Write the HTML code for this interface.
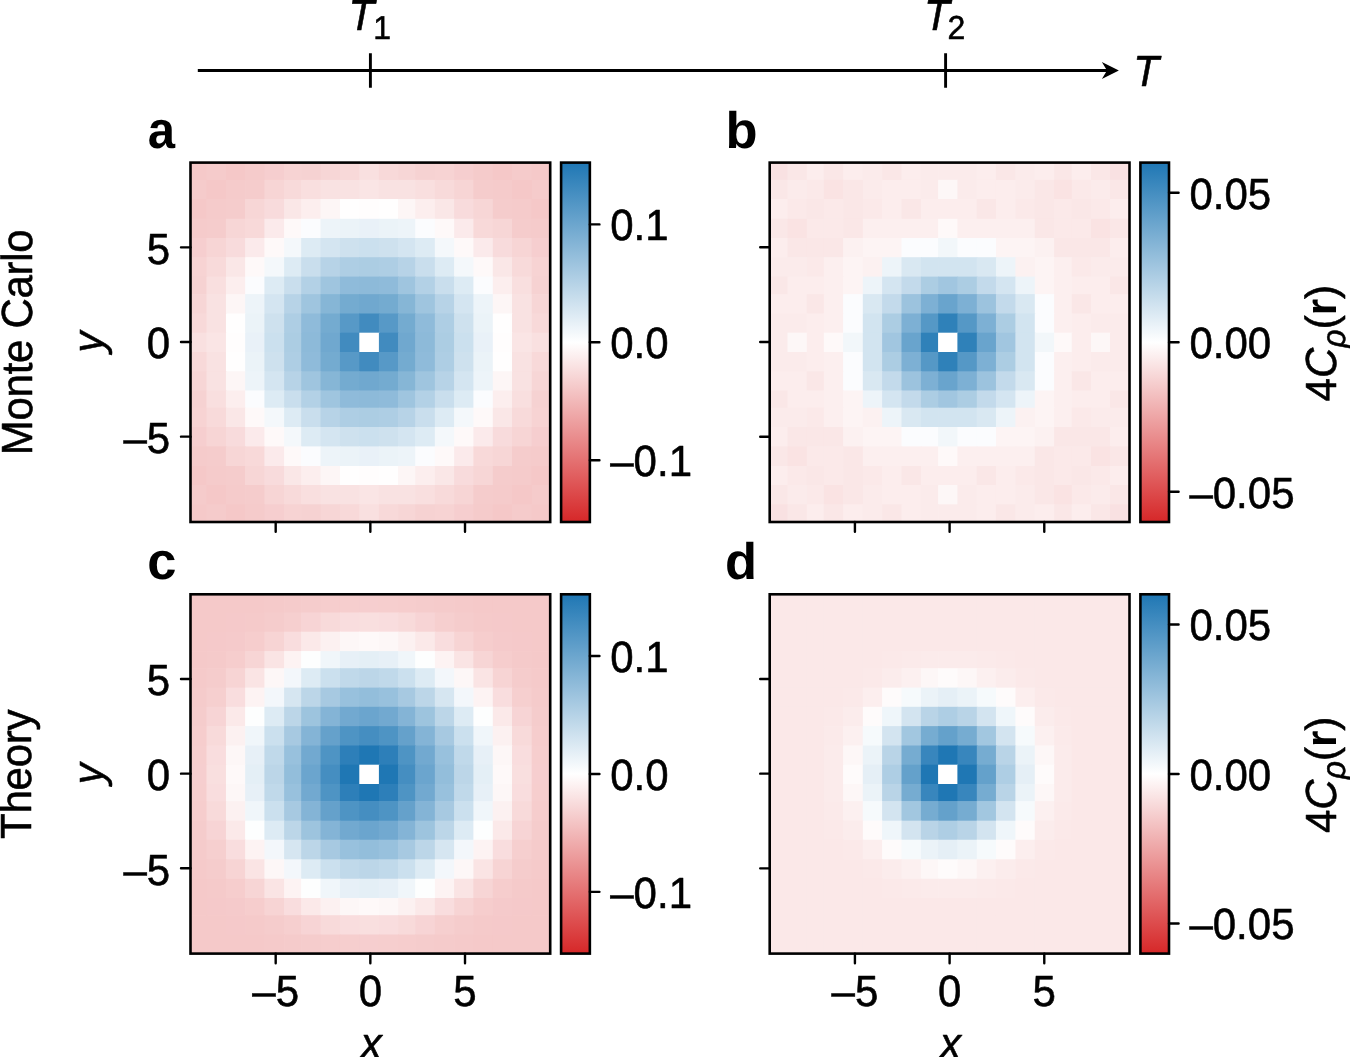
<!DOCTYPE html>
<html lang="en"><head><meta charset="utf-8"><title>Density correlations: Monte Carlo and theory</title>
<style>html,body{margin:0;padding:0;background:#fff}body{width:1350px;height:1057px;overflow:hidden}svg{display:block}
text{font-family:"Liberation Sans",Arial,Helvetica,sans-serif;font-size:42px;fill:#000;text-rendering:geometricPrecision;stroke:#000;stroke-width:.55px;stroke-linejoin:round}.i{font-style:italic}.b{font-weight:bold;stroke-width:0}.pl{font-weight:bold;font-size:52.5px;stroke-width:0}.sub{font-size:32px}</style></head><body>
<svg width="1350" height="1057" viewBox="0 0 1350 1057">
<defs><linearGradient id="cm" x1="0" y1="0" x2="0" y2="1"><stop offset="0" stop-color="#1f77b4"/><stop offset="0.5" stop-color="#ffffff"/><stop offset="1" stop-color="#d62728"/></linearGradient></defs>
<rect width="1350" height="1057" fill="#fff"/>
<g stroke="#000" stroke-width="2.9" fill="none"><path d="M197.8 70.5H1108"/><path d="M370.4 53.3V87.8M945.6 53.3V87.8"/></g>
<path d="M1118.9 70.5L1101.85 62 1107 70.5 1101.85 79Z" fill="#000"/>
<text transform="translate(348.40 29.80) scale(1.000 1.036)" class="i">T</text>
<text transform="translate(373.20 39.00) scale(1.000 1.036)" class="sub">1</text>
<text transform="translate(924.10 29.90) scale(1.000 1.036)" class="i">T</text>
<text transform="translate(947.60 38.90) scale(1.000 1.036)" class="sub">2</text>
<text transform="translate(1133.20 85.90) scale(1.000 1.036)" class="i">T</text>
<g id="panel-a">
<rect x="190.50" y="162.60" width="16.70" height="18.00" fill="#f5c9c9"/>
<rect x="206.50" y="162.60" width="20.16" height="18.00" fill="#f5cbcb"/>
<rect x="225.96" y="162.60" width="19.89" height="18.00" fill="#f5c8c8"/>
<rect x="245.15" y="162.60" width="19.95" height="18.00" fill="#f5cbcb"/>
<rect x="264.40" y="162.60" width="20.40" height="18.00" fill="#f6cecf"/>
<rect x="284.10" y="162.60" width="17.75" height="18.00" fill="#f7d3d3"/>
<rect x="301.15" y="162.60" width="20.10" height="18.00" fill="#f6d2d2"/>
<rect x="320.55" y="162.60" width="20.11" height="18.00" fill="#f7d6d6"/>
<rect x="339.96" y="162.60" width="20.04" height="18.00" fill="#f8d9d9"/>
<rect x="359.30" y="162.60" width="20.30" height="18.00" fill="#f9e0e0"/>
<rect x="378.90" y="162.60" width="19.90" height="18.00" fill="#f8d9d9"/>
<rect x="398.10" y="162.60" width="17.80" height="18.00" fill="#f7d6d6"/>
<rect x="415.20" y="162.60" width="20.35" height="18.00" fill="#f6d2d2"/>
<rect x="434.85" y="162.60" width="19.95" height="18.00" fill="#f7d3d3"/>
<rect x="454.10" y="162.60" width="20.00" height="18.00" fill="#f6cecf"/>
<rect x="473.40" y="162.60" width="20.10" height="18.00" fill="#f5cbcb"/>
<rect x="492.80" y="162.60" width="19.90" height="18.00" fill="#f5c8c8"/>
<rect x="512.00" y="162.60" width="20.40" height="18.00" fill="#f5cbcb"/>
<rect x="531.70" y="162.60" width="18.50" height="18.00" fill="#f5c9c9"/>
<rect x="190.50" y="179.90" width="16.70" height="19.80" fill="#f5cbcb"/>
<rect x="206.50" y="179.90" width="20.16" height="19.80" fill="#f5c8c8"/>
<rect x="225.96" y="179.90" width="19.89" height="19.80" fill="#f5cbcb"/>
<rect x="245.15" y="179.90" width="19.95" height="19.80" fill="#f5cccc"/>
<rect x="264.40" y="179.90" width="20.40" height="19.80" fill="#f7d5d5"/>
<rect x="284.10" y="179.90" width="17.75" height="19.80" fill="#f8dada"/>
<rect x="301.15" y="179.90" width="20.10" height="19.80" fill="#f9dfdf"/>
<rect x="320.55" y="179.90" width="20.11" height="19.80" fill="#f9e2e2"/>
<rect x="339.96" y="179.90" width="20.04" height="19.80" fill="#f9e2e2"/>
<rect x="359.30" y="179.90" width="20.30" height="19.80" fill="#fae5e5"/>
<rect x="378.90" y="179.90" width="19.90" height="19.80" fill="#f9e2e2"/>
<rect x="398.10" y="179.90" width="17.80" height="19.80" fill="#f9e2e2"/>
<rect x="415.20" y="179.90" width="20.35" height="19.80" fill="#f9dfdf"/>
<rect x="434.85" y="179.90" width="19.95" height="19.80" fill="#f8dada"/>
<rect x="454.10" y="179.90" width="20.00" height="19.80" fill="#f7d5d5"/>
<rect x="473.40" y="179.90" width="20.10" height="19.80" fill="#f5cccc"/>
<rect x="492.80" y="179.90" width="19.90" height="19.80" fill="#f5cbcb"/>
<rect x="512.00" y="179.90" width="20.40" height="19.80" fill="#f5c8c8"/>
<rect x="531.70" y="179.90" width="18.50" height="19.80" fill="#f5cbcb"/>
<rect x="190.50" y="199.00" width="16.70" height="20.50" fill="#f5c8c8"/>
<rect x="206.50" y="199.00" width="20.16" height="20.50" fill="#f5cbcb"/>
<rect x="225.96" y="199.00" width="19.89" height="20.50" fill="#f5cccc"/>
<rect x="245.15" y="199.00" width="19.95" height="20.50" fill="#f7d6d6"/>
<rect x="264.40" y="199.00" width="20.40" height="20.50" fill="#f8dbdc"/>
<rect x="284.10" y="199.00" width="17.75" height="20.50" fill="#fae7e7"/>
<rect x="301.15" y="199.00" width="20.10" height="20.50" fill="#fceeee"/>
<rect x="320.55" y="199.00" width="20.11" height="20.50" fill="#fdf6f6"/>
<rect x="339.96" y="199.00" width="20.04" height="20.50" fill="#fffefe"/>
<rect x="359.30" y="199.00" width="20.30" height="20.50" fill="#fffdfd"/>
<rect x="378.90" y="199.00" width="19.90" height="20.50" fill="#fffefe"/>
<rect x="398.10" y="199.00" width="17.80" height="20.50" fill="#fdf6f6"/>
<rect x="415.20" y="199.00" width="20.35" height="20.50" fill="#fceeee"/>
<rect x="434.85" y="199.00" width="19.95" height="20.50" fill="#fae7e7"/>
<rect x="454.10" y="199.00" width="20.00" height="20.50" fill="#f8dbdc"/>
<rect x="473.40" y="199.00" width="20.10" height="20.50" fill="#f7d6d6"/>
<rect x="492.80" y="199.00" width="19.90" height="20.50" fill="#f5cccc"/>
<rect x="512.00" y="199.00" width="20.40" height="20.50" fill="#f5cbcb"/>
<rect x="531.70" y="199.00" width="18.50" height="20.50" fill="#f5c8c8"/>
<rect x="190.50" y="218.80" width="16.70" height="19.90" fill="#f5cbcb"/>
<rect x="206.50" y="218.80" width="20.16" height="19.90" fill="#f5cccc"/>
<rect x="225.96" y="218.80" width="19.89" height="19.90" fill="#f7d6d6"/>
<rect x="245.15" y="218.80" width="19.95" height="19.90" fill="#f8d9d9"/>
<rect x="264.40" y="218.80" width="20.40" height="19.90" fill="#fbeaeb"/>
<rect x="284.10" y="218.80" width="17.75" height="19.90" fill="#fef9f9"/>
<rect x="301.15" y="218.80" width="20.10" height="19.90" fill="#fbfcfe"/>
<rect x="320.55" y="218.80" width="20.11" height="19.90" fill="#edf4f9"/>
<rect x="339.96" y="218.80" width="20.04" height="19.90" fill="#ebf3f8"/>
<rect x="359.30" y="218.80" width="20.30" height="19.90" fill="#e9f1f8"/>
<rect x="378.90" y="218.80" width="19.90" height="19.90" fill="#ebf3f8"/>
<rect x="398.10" y="218.80" width="17.80" height="19.90" fill="#edf4f9"/>
<rect x="415.20" y="218.80" width="20.35" height="19.90" fill="#fbfcfe"/>
<rect x="434.85" y="218.80" width="19.95" height="19.90" fill="#fef9f9"/>
<rect x="454.10" y="218.80" width="20.00" height="19.90" fill="#fbeaeb"/>
<rect x="473.40" y="218.80" width="20.10" height="19.90" fill="#f8d9d9"/>
<rect x="492.80" y="218.80" width="19.90" height="19.90" fill="#f7d6d6"/>
<rect x="512.00" y="218.80" width="20.40" height="19.90" fill="#f5cccc"/>
<rect x="531.70" y="218.80" width="18.50" height="19.90" fill="#f5cbcb"/>
<rect x="190.50" y="238.00" width="16.70" height="19.90" fill="#f6cecf"/>
<rect x="206.50" y="238.00" width="20.16" height="19.90" fill="#f7d5d5"/>
<rect x="225.96" y="238.00" width="19.89" height="19.90" fill="#f8dbdc"/>
<rect x="245.15" y="238.00" width="19.95" height="19.90" fill="#fbeaeb"/>
<rect x="264.40" y="238.00" width="20.40" height="19.90" fill="#fef9f9"/>
<rect x="284.10" y="238.00" width="17.75" height="19.90" fill="#f4f8fb"/>
<rect x="301.15" y="238.00" width="20.10" height="19.90" fill="#ddebf4"/>
<rect x="320.55" y="238.00" width="20.11" height="19.90" fill="#d4e5f1"/>
<rect x="339.96" y="238.00" width="20.04" height="19.90" fill="#cee1ee"/>
<rect x="359.30" y="238.00" width="20.30" height="19.90" fill="#cbe0ee"/>
<rect x="378.90" y="238.00" width="19.90" height="19.90" fill="#cee1ee"/>
<rect x="398.10" y="238.00" width="17.80" height="19.90" fill="#d4e5f1"/>
<rect x="415.20" y="238.00" width="20.35" height="19.90" fill="#ddebf4"/>
<rect x="434.85" y="238.00" width="19.95" height="19.90" fill="#f4f8fb"/>
<rect x="454.10" y="238.00" width="20.00" height="19.90" fill="#fef9f9"/>
<rect x="473.40" y="238.00" width="20.10" height="19.90" fill="#fbeaeb"/>
<rect x="492.80" y="238.00" width="19.90" height="19.90" fill="#f8dbdc"/>
<rect x="512.00" y="238.00" width="20.40" height="19.90" fill="#f7d5d5"/>
<rect x="531.70" y="238.00" width="18.50" height="19.90" fill="#f6cecf"/>
<rect x="190.50" y="257.20" width="16.70" height="20.10" fill="#f7d3d3"/>
<rect x="206.50" y="257.20" width="20.16" height="20.10" fill="#f8dada"/>
<rect x="225.96" y="257.20" width="19.89" height="20.10" fill="#fae7e7"/>
<rect x="245.15" y="257.20" width="19.95" height="20.10" fill="#fef9f9"/>
<rect x="264.40" y="257.20" width="20.40" height="20.10" fill="#f4f8fb"/>
<rect x="284.10" y="257.20" width="17.75" height="20.10" fill="#ddebf4"/>
<rect x="301.15" y="257.20" width="20.10" height="20.10" fill="#c9deed"/>
<rect x="320.55" y="257.20" width="20.11" height="20.10" fill="#b7d3e7"/>
<rect x="339.96" y="257.20" width="20.04" height="20.10" fill="#aecee4"/>
<rect x="359.30" y="257.20" width="20.30" height="20.10" fill="#accde3"/>
<rect x="378.90" y="257.20" width="19.90" height="20.10" fill="#aecee4"/>
<rect x="398.10" y="257.20" width="17.80" height="20.10" fill="#b7d3e7"/>
<rect x="415.20" y="257.20" width="20.35" height="20.10" fill="#c9deed"/>
<rect x="434.85" y="257.20" width="19.95" height="20.10" fill="#ddebf4"/>
<rect x="454.10" y="257.20" width="20.00" height="20.10" fill="#f4f8fb"/>
<rect x="473.40" y="257.20" width="20.10" height="20.10" fill="#fef9f9"/>
<rect x="492.80" y="257.20" width="19.90" height="20.10" fill="#fae7e7"/>
<rect x="512.00" y="257.20" width="20.40" height="20.10" fill="#f8dada"/>
<rect x="531.70" y="257.20" width="18.50" height="20.10" fill="#f7d3d3"/>
<rect x="190.50" y="276.60" width="16.70" height="18.20" fill="#f6d2d2"/>
<rect x="206.50" y="276.60" width="20.16" height="18.20" fill="#f9dfdf"/>
<rect x="225.96" y="276.60" width="19.89" height="18.20" fill="#fceeee"/>
<rect x="245.15" y="276.60" width="19.95" height="18.20" fill="#fbfcfe"/>
<rect x="264.40" y="276.60" width="20.40" height="18.20" fill="#ddebf4"/>
<rect x="284.10" y="276.60" width="17.75" height="18.20" fill="#c9deed"/>
<rect x="301.15" y="276.60" width="20.10" height="18.20" fill="#b3d1e6"/>
<rect x="320.55" y="276.60" width="20.11" height="18.20" fill="#9fc5df"/>
<rect x="339.96" y="276.60" width="20.04" height="18.20" fill="#8fbbda"/>
<rect x="359.30" y="276.60" width="20.30" height="18.20" fill="#8dbad9"/>
<rect x="378.90" y="276.60" width="19.90" height="18.20" fill="#8fbbda"/>
<rect x="398.10" y="276.60" width="17.80" height="18.20" fill="#9fc5df"/>
<rect x="415.20" y="276.60" width="20.35" height="18.20" fill="#b3d1e6"/>
<rect x="434.85" y="276.60" width="19.95" height="18.20" fill="#c9deed"/>
<rect x="454.10" y="276.60" width="20.00" height="18.20" fill="#ddebf4"/>
<rect x="473.40" y="276.60" width="20.10" height="18.20" fill="#fbfcfe"/>
<rect x="492.80" y="276.60" width="19.90" height="18.20" fill="#fceeee"/>
<rect x="512.00" y="276.60" width="20.40" height="18.20" fill="#f9dfdf"/>
<rect x="531.70" y="276.60" width="18.50" height="18.20" fill="#f6d2d2"/>
<rect x="190.50" y="294.10" width="16.70" height="20.10" fill="#f7d6d6"/>
<rect x="206.50" y="294.10" width="20.16" height="20.10" fill="#f9e2e2"/>
<rect x="225.96" y="294.10" width="19.89" height="20.10" fill="#fdf6f6"/>
<rect x="245.15" y="294.10" width="19.95" height="20.10" fill="#edf4f9"/>
<rect x="264.40" y="294.10" width="20.40" height="20.10" fill="#d4e5f1"/>
<rect x="284.10" y="294.10" width="17.75" height="20.10" fill="#b7d3e7"/>
<rect x="301.15" y="294.10" width="20.10" height="20.10" fill="#9fc5df"/>
<rect x="320.55" y="294.10" width="20.11" height="20.10" fill="#86b6d6"/>
<rect x="339.96" y="294.10" width="20.04" height="20.10" fill="#74abd0"/>
<rect x="359.30" y="294.10" width="20.30" height="20.10" fill="#70a8cf"/>
<rect x="378.90" y="294.10" width="19.90" height="20.10" fill="#74abd0"/>
<rect x="398.10" y="294.10" width="17.80" height="20.10" fill="#86b6d6"/>
<rect x="415.20" y="294.10" width="20.35" height="20.10" fill="#9fc5df"/>
<rect x="434.85" y="294.10" width="19.95" height="20.10" fill="#b7d3e7"/>
<rect x="454.10" y="294.10" width="20.00" height="20.10" fill="#d4e5f1"/>
<rect x="473.40" y="294.10" width="20.10" height="20.10" fill="#edf4f9"/>
<rect x="492.80" y="294.10" width="19.90" height="20.10" fill="#fdf6f6"/>
<rect x="512.00" y="294.10" width="20.40" height="20.10" fill="#f9e2e2"/>
<rect x="531.70" y="294.10" width="18.50" height="20.10" fill="#f7d6d6"/>
<rect x="190.50" y="313.50" width="16.70" height="19.90" fill="#f8d9d9"/>
<rect x="206.50" y="313.50" width="20.16" height="19.90" fill="#f9e2e2"/>
<rect x="225.96" y="313.50" width="19.89" height="19.90" fill="#fffefe"/>
<rect x="245.15" y="313.50" width="19.95" height="19.90" fill="#ebf3f8"/>
<rect x="264.40" y="313.50" width="20.40" height="19.90" fill="#cee1ee"/>
<rect x="284.10" y="313.50" width="17.75" height="19.90" fill="#aecee4"/>
<rect x="301.15" y="313.50" width="20.10" height="19.90" fill="#8fbbda"/>
<rect x="320.55" y="313.50" width="20.11" height="19.90" fill="#74abd0"/>
<rect x="339.96" y="313.50" width="20.04" height="19.90" fill="#5799c7"/>
<rect x="359.30" y="313.50" width="20.30" height="19.90" fill="#418bbf"/>
<rect x="378.90" y="313.50" width="19.90" height="19.90" fill="#5799c7"/>
<rect x="398.10" y="313.50" width="17.80" height="19.90" fill="#74abd0"/>
<rect x="415.20" y="313.50" width="20.35" height="19.90" fill="#8fbbda"/>
<rect x="434.85" y="313.50" width="19.95" height="19.90" fill="#aecee4"/>
<rect x="454.10" y="313.50" width="20.00" height="19.90" fill="#cee1ee"/>
<rect x="473.40" y="313.50" width="20.10" height="19.90" fill="#ebf3f8"/>
<rect x="492.80" y="313.50" width="19.90" height="19.90" fill="#fffefe"/>
<rect x="512.00" y="313.50" width="20.40" height="19.90" fill="#f9e2e2"/>
<rect x="531.70" y="313.50" width="18.50" height="19.90" fill="#f8d9d9"/>
<rect x="190.50" y="332.70" width="16.70" height="20.00" fill="#f9e0e0"/>
<rect x="206.50" y="332.70" width="20.16" height="20.00" fill="#fae5e5"/>
<rect x="225.96" y="332.70" width="19.89" height="20.00" fill="#fffdfd"/>
<rect x="245.15" y="332.70" width="19.95" height="20.00" fill="#e9f1f8"/>
<rect x="264.40" y="332.70" width="20.40" height="20.00" fill="#cbe0ee"/>
<rect x="284.10" y="332.70" width="17.75" height="20.00" fill="#accde3"/>
<rect x="301.15" y="332.70" width="20.10" height="20.00" fill="#8dbad9"/>
<rect x="320.55" y="332.70" width="20.11" height="20.00" fill="#70a8cf"/>
<rect x="339.96" y="332.70" width="20.04" height="20.00" fill="#418bbf"/>
<rect x="359.30" y="332.70" width="20.30" height="20.00" fill="#ffffff"/>
<rect x="378.90" y="332.70" width="19.90" height="20.00" fill="#418bbf"/>
<rect x="398.10" y="332.70" width="17.80" height="20.00" fill="#70a8cf"/>
<rect x="415.20" y="332.70" width="20.35" height="20.00" fill="#8dbad9"/>
<rect x="434.85" y="332.70" width="19.95" height="20.00" fill="#accde3"/>
<rect x="454.10" y="332.70" width="20.00" height="20.00" fill="#cbe0ee"/>
<rect x="473.40" y="332.70" width="20.10" height="20.00" fill="#e9f1f8"/>
<rect x="492.80" y="332.70" width="19.90" height="20.00" fill="#fffdfd"/>
<rect x="512.00" y="332.70" width="20.40" height="20.00" fill="#fae5e5"/>
<rect x="531.70" y="332.70" width="18.50" height="20.00" fill="#f9e0e0"/>
<rect x="190.50" y="352.00" width="16.70" height="20.00" fill="#f8d9d9"/>
<rect x="206.50" y="352.00" width="20.16" height="20.00" fill="#f9e2e2"/>
<rect x="225.96" y="352.00" width="19.89" height="20.00" fill="#fffefe"/>
<rect x="245.15" y="352.00" width="19.95" height="20.00" fill="#ebf3f8"/>
<rect x="264.40" y="352.00" width="20.40" height="20.00" fill="#cee1ee"/>
<rect x="284.10" y="352.00" width="17.75" height="20.00" fill="#aecee4"/>
<rect x="301.15" y="352.00" width="20.10" height="20.00" fill="#8fbbda"/>
<rect x="320.55" y="352.00" width="20.11" height="20.00" fill="#74abd0"/>
<rect x="339.96" y="352.00" width="20.04" height="20.00" fill="#5799c7"/>
<rect x="359.30" y="352.00" width="20.30" height="20.00" fill="#418bbf"/>
<rect x="378.90" y="352.00" width="19.90" height="20.00" fill="#5799c7"/>
<rect x="398.10" y="352.00" width="17.80" height="20.00" fill="#74abd0"/>
<rect x="415.20" y="352.00" width="20.35" height="20.00" fill="#8fbbda"/>
<rect x="434.85" y="352.00" width="19.95" height="20.00" fill="#aecee4"/>
<rect x="454.10" y="352.00" width="20.00" height="20.00" fill="#cee1ee"/>
<rect x="473.40" y="352.00" width="20.10" height="20.00" fill="#ebf3f8"/>
<rect x="492.80" y="352.00" width="19.90" height="20.00" fill="#fffefe"/>
<rect x="512.00" y="352.00" width="20.40" height="20.00" fill="#f9e2e2"/>
<rect x="531.70" y="352.00" width="18.50" height="20.00" fill="#f8d9d9"/>
<rect x="190.50" y="371.30" width="16.70" height="19.90" fill="#f7d6d6"/>
<rect x="206.50" y="371.30" width="20.16" height="19.90" fill="#f9e2e2"/>
<rect x="225.96" y="371.30" width="19.89" height="19.90" fill="#fdf6f6"/>
<rect x="245.15" y="371.30" width="19.95" height="19.90" fill="#edf4f9"/>
<rect x="264.40" y="371.30" width="20.40" height="19.90" fill="#d4e5f1"/>
<rect x="284.10" y="371.30" width="17.75" height="19.90" fill="#b7d3e7"/>
<rect x="301.15" y="371.30" width="20.10" height="19.90" fill="#9fc5df"/>
<rect x="320.55" y="371.30" width="20.11" height="19.90" fill="#86b6d6"/>
<rect x="339.96" y="371.30" width="20.04" height="19.90" fill="#74abd0"/>
<rect x="359.30" y="371.30" width="20.30" height="19.90" fill="#70a8cf"/>
<rect x="378.90" y="371.30" width="19.90" height="19.90" fill="#74abd0"/>
<rect x="398.10" y="371.30" width="17.80" height="19.90" fill="#86b6d6"/>
<rect x="415.20" y="371.30" width="20.35" height="19.90" fill="#9fc5df"/>
<rect x="434.85" y="371.30" width="19.95" height="19.90" fill="#b7d3e7"/>
<rect x="454.10" y="371.30" width="20.00" height="19.90" fill="#d4e5f1"/>
<rect x="473.40" y="371.30" width="20.10" height="19.90" fill="#edf4f9"/>
<rect x="492.80" y="371.30" width="19.90" height="19.90" fill="#fdf6f6"/>
<rect x="512.00" y="371.30" width="20.40" height="19.90" fill="#f9e2e2"/>
<rect x="531.70" y="371.30" width="18.50" height="19.90" fill="#f7d6d6"/>
<rect x="190.50" y="390.50" width="16.70" height="17.90" fill="#f6d2d2"/>
<rect x="206.50" y="390.50" width="20.16" height="17.90" fill="#f9dfdf"/>
<rect x="225.96" y="390.50" width="19.89" height="17.90" fill="#fceeee"/>
<rect x="245.15" y="390.50" width="19.95" height="17.90" fill="#fbfcfe"/>
<rect x="264.40" y="390.50" width="20.40" height="17.90" fill="#ddebf4"/>
<rect x="284.10" y="390.50" width="17.75" height="17.90" fill="#c9deed"/>
<rect x="301.15" y="390.50" width="20.10" height="17.90" fill="#b3d1e6"/>
<rect x="320.55" y="390.50" width="20.11" height="17.90" fill="#9fc5df"/>
<rect x="339.96" y="390.50" width="20.04" height="17.90" fill="#8fbbda"/>
<rect x="359.30" y="390.50" width="20.30" height="17.90" fill="#8dbad9"/>
<rect x="378.90" y="390.50" width="19.90" height="17.90" fill="#8fbbda"/>
<rect x="398.10" y="390.50" width="17.80" height="17.90" fill="#9fc5df"/>
<rect x="415.20" y="390.50" width="20.35" height="17.90" fill="#b3d1e6"/>
<rect x="434.85" y="390.50" width="19.95" height="17.90" fill="#c9deed"/>
<rect x="454.10" y="390.50" width="20.00" height="17.90" fill="#ddebf4"/>
<rect x="473.40" y="390.50" width="20.10" height="17.90" fill="#fbfcfe"/>
<rect x="492.80" y="390.50" width="19.90" height="17.90" fill="#fceeee"/>
<rect x="512.00" y="390.50" width="20.40" height="17.90" fill="#f9dfdf"/>
<rect x="531.70" y="390.50" width="18.50" height="17.90" fill="#f6d2d2"/>
<rect x="190.50" y="407.70" width="16.70" height="20.00" fill="#f7d3d3"/>
<rect x="206.50" y="407.70" width="20.16" height="20.00" fill="#f8dada"/>
<rect x="225.96" y="407.70" width="19.89" height="20.00" fill="#fae7e7"/>
<rect x="245.15" y="407.70" width="19.95" height="20.00" fill="#fef9f9"/>
<rect x="264.40" y="407.70" width="20.40" height="20.00" fill="#f4f8fb"/>
<rect x="284.10" y="407.70" width="17.75" height="20.00" fill="#ddebf4"/>
<rect x="301.15" y="407.70" width="20.10" height="20.00" fill="#c9deed"/>
<rect x="320.55" y="407.70" width="20.11" height="20.00" fill="#b7d3e7"/>
<rect x="339.96" y="407.70" width="20.04" height="20.00" fill="#aecee4"/>
<rect x="359.30" y="407.70" width="20.30" height="20.00" fill="#accde3"/>
<rect x="378.90" y="407.70" width="19.90" height="20.00" fill="#aecee4"/>
<rect x="398.10" y="407.70" width="17.80" height="20.00" fill="#b7d3e7"/>
<rect x="415.20" y="407.70" width="20.35" height="20.00" fill="#c9deed"/>
<rect x="434.85" y="407.70" width="19.95" height="20.00" fill="#ddebf4"/>
<rect x="454.10" y="407.70" width="20.00" height="20.00" fill="#f4f8fb"/>
<rect x="473.40" y="407.70" width="20.10" height="20.00" fill="#fef9f9"/>
<rect x="492.80" y="407.70" width="19.90" height="20.00" fill="#fae7e7"/>
<rect x="512.00" y="407.70" width="20.40" height="20.00" fill="#f8dada"/>
<rect x="531.70" y="407.70" width="18.50" height="20.00" fill="#f7d3d3"/>
<rect x="190.50" y="427.00" width="16.70" height="20.10" fill="#f6cecf"/>
<rect x="206.50" y="427.00" width="20.16" height="20.10" fill="#f7d5d5"/>
<rect x="225.96" y="427.00" width="19.89" height="20.10" fill="#f8dbdc"/>
<rect x="245.15" y="427.00" width="19.95" height="20.10" fill="#fbeaeb"/>
<rect x="264.40" y="427.00" width="20.40" height="20.10" fill="#fef9f9"/>
<rect x="284.10" y="427.00" width="17.75" height="20.10" fill="#f4f8fb"/>
<rect x="301.15" y="427.00" width="20.10" height="20.10" fill="#ddebf4"/>
<rect x="320.55" y="427.00" width="20.11" height="20.10" fill="#d4e5f1"/>
<rect x="339.96" y="427.00" width="20.04" height="20.10" fill="#cee1ee"/>
<rect x="359.30" y="427.00" width="20.30" height="20.10" fill="#cbe0ee"/>
<rect x="378.90" y="427.00" width="19.90" height="20.10" fill="#cee1ee"/>
<rect x="398.10" y="427.00" width="17.80" height="20.10" fill="#d4e5f1"/>
<rect x="415.20" y="427.00" width="20.35" height="20.10" fill="#ddebf4"/>
<rect x="434.85" y="427.00" width="19.95" height="20.10" fill="#f4f8fb"/>
<rect x="454.10" y="427.00" width="20.00" height="20.10" fill="#fef9f9"/>
<rect x="473.40" y="427.00" width="20.10" height="20.10" fill="#fbeaeb"/>
<rect x="492.80" y="427.00" width="19.90" height="20.10" fill="#f8dbdc"/>
<rect x="512.00" y="427.00" width="20.40" height="20.10" fill="#f7d5d5"/>
<rect x="531.70" y="427.00" width="18.50" height="20.10" fill="#f6cecf"/>
<rect x="190.50" y="446.40" width="16.70" height="20.30" fill="#f5cbcb"/>
<rect x="206.50" y="446.40" width="20.16" height="20.30" fill="#f5cccc"/>
<rect x="225.96" y="446.40" width="19.89" height="20.30" fill="#f7d6d6"/>
<rect x="245.15" y="446.40" width="19.95" height="20.30" fill="#f8d9d9"/>
<rect x="264.40" y="446.40" width="20.40" height="20.30" fill="#fbeaeb"/>
<rect x="284.10" y="446.40" width="17.75" height="20.30" fill="#fef9f9"/>
<rect x="301.15" y="446.40" width="20.10" height="20.30" fill="#fbfcfe"/>
<rect x="320.55" y="446.40" width="20.11" height="20.30" fill="#edf4f9"/>
<rect x="339.96" y="446.40" width="20.04" height="20.30" fill="#ebf3f8"/>
<rect x="359.30" y="446.40" width="20.30" height="20.30" fill="#e9f1f8"/>
<rect x="378.90" y="446.40" width="19.90" height="20.30" fill="#ebf3f8"/>
<rect x="398.10" y="446.40" width="17.80" height="20.30" fill="#edf4f9"/>
<rect x="415.20" y="446.40" width="20.35" height="20.30" fill="#fbfcfe"/>
<rect x="434.85" y="446.40" width="19.95" height="20.30" fill="#fef9f9"/>
<rect x="454.10" y="446.40" width="20.00" height="20.30" fill="#fbeaeb"/>
<rect x="473.40" y="446.40" width="20.10" height="20.30" fill="#f8d9d9"/>
<rect x="492.80" y="446.40" width="19.90" height="20.30" fill="#f7d6d6"/>
<rect x="512.00" y="446.40" width="20.40" height="20.30" fill="#f5cccc"/>
<rect x="531.70" y="446.40" width="18.50" height="20.30" fill="#f5cbcb"/>
<rect x="190.50" y="466.00" width="16.70" height="19.70" fill="#f5c8c8"/>
<rect x="206.50" y="466.00" width="20.16" height="19.70" fill="#f5cbcb"/>
<rect x="225.96" y="466.00" width="19.89" height="19.70" fill="#f5cccc"/>
<rect x="245.15" y="466.00" width="19.95" height="19.70" fill="#f7d6d6"/>
<rect x="264.40" y="466.00" width="20.40" height="19.70" fill="#f8dbdc"/>
<rect x="284.10" y="466.00" width="17.75" height="19.70" fill="#fae7e7"/>
<rect x="301.15" y="466.00" width="20.10" height="19.70" fill="#fceeee"/>
<rect x="320.55" y="466.00" width="20.11" height="19.70" fill="#fdf6f6"/>
<rect x="339.96" y="466.00" width="20.04" height="19.70" fill="#fffefe"/>
<rect x="359.30" y="466.00" width="20.30" height="19.70" fill="#fffdfd"/>
<rect x="378.90" y="466.00" width="19.90" height="19.70" fill="#fffefe"/>
<rect x="398.10" y="466.00" width="17.80" height="19.70" fill="#fdf6f6"/>
<rect x="415.20" y="466.00" width="20.35" height="19.70" fill="#fceeee"/>
<rect x="434.85" y="466.00" width="19.95" height="19.70" fill="#fae7e7"/>
<rect x="454.10" y="466.00" width="20.00" height="19.70" fill="#f8dbdc"/>
<rect x="473.40" y="466.00" width="20.10" height="19.70" fill="#f7d6d6"/>
<rect x="492.80" y="466.00" width="19.90" height="19.70" fill="#f5cccc"/>
<rect x="512.00" y="466.00" width="20.40" height="19.70" fill="#f5cbcb"/>
<rect x="531.70" y="466.00" width="18.50" height="19.70" fill="#f5c8c8"/>
<rect x="190.50" y="485.00" width="16.70" height="20.00" fill="#f5cbcb"/>
<rect x="206.50" y="485.00" width="20.16" height="20.00" fill="#f5c8c8"/>
<rect x="225.96" y="485.00" width="19.89" height="20.00" fill="#f5cbcb"/>
<rect x="245.15" y="485.00" width="19.95" height="20.00" fill="#f5cccc"/>
<rect x="264.40" y="485.00" width="20.40" height="20.00" fill="#f7d5d5"/>
<rect x="284.10" y="485.00" width="17.75" height="20.00" fill="#f8dada"/>
<rect x="301.15" y="485.00" width="20.10" height="20.00" fill="#f9dfdf"/>
<rect x="320.55" y="485.00" width="20.11" height="20.00" fill="#f9e2e2"/>
<rect x="339.96" y="485.00" width="20.04" height="20.00" fill="#f9e2e2"/>
<rect x="359.30" y="485.00" width="20.30" height="20.00" fill="#fae5e5"/>
<rect x="378.90" y="485.00" width="19.90" height="20.00" fill="#f9e2e2"/>
<rect x="398.10" y="485.00" width="17.80" height="20.00" fill="#f9e2e2"/>
<rect x="415.20" y="485.00" width="20.35" height="20.00" fill="#f9dfdf"/>
<rect x="434.85" y="485.00" width="19.95" height="20.00" fill="#f8dada"/>
<rect x="454.10" y="485.00" width="20.00" height="20.00" fill="#f7d5d5"/>
<rect x="473.40" y="485.00" width="20.10" height="20.00" fill="#f5cccc"/>
<rect x="492.80" y="485.00" width="19.90" height="20.00" fill="#f5cbcb"/>
<rect x="512.00" y="485.00" width="20.40" height="20.00" fill="#f5c8c8"/>
<rect x="531.70" y="485.00" width="18.50" height="20.00" fill="#f5cbcb"/>
<rect x="190.50" y="504.30" width="16.70" height="17.70" fill="#f5c9c9"/>
<rect x="206.50" y="504.30" width="20.16" height="17.70" fill="#f5cbcb"/>
<rect x="225.96" y="504.30" width="19.89" height="17.70" fill="#f5c8c8"/>
<rect x="245.15" y="504.30" width="19.95" height="17.70" fill="#f5cbcb"/>
<rect x="264.40" y="504.30" width="20.40" height="17.70" fill="#f6cecf"/>
<rect x="284.10" y="504.30" width="17.75" height="17.70" fill="#f7d3d3"/>
<rect x="301.15" y="504.30" width="20.10" height="17.70" fill="#f6d2d2"/>
<rect x="320.55" y="504.30" width="20.11" height="17.70" fill="#f7d6d6"/>
<rect x="339.96" y="504.30" width="20.04" height="17.70" fill="#f8d9d9"/>
<rect x="359.30" y="504.30" width="20.30" height="17.70" fill="#f9e0e0"/>
<rect x="378.90" y="504.30" width="19.90" height="17.70" fill="#f8d9d9"/>
<rect x="398.10" y="504.30" width="17.80" height="17.70" fill="#f7d6d6"/>
<rect x="415.20" y="504.30" width="20.35" height="17.70" fill="#f6d2d2"/>
<rect x="434.85" y="504.30" width="19.95" height="17.70" fill="#f7d3d3"/>
<rect x="454.10" y="504.30" width="20.00" height="17.70" fill="#f6cecf"/>
<rect x="473.40" y="504.30" width="20.10" height="17.70" fill="#f5cbcb"/>
<rect x="492.80" y="504.30" width="19.90" height="17.70" fill="#f5c8c8"/>
<rect x="512.00" y="504.30" width="20.40" height="17.70" fill="#f5cbcb"/>
<rect x="531.70" y="504.30" width="18.50" height="17.70" fill="#f5c9c9"/>
<rect x="190.50" y="162.60" width="359.70" height="359.40" fill="none" stroke="#000" stroke-width="2.6"/>
<rect x="561.10" y="162.60" width="28.75" height="359.40" fill="url(#cm)" stroke="#000" stroke-width="2.6"/>
<path d="M275.69 522.00v9.7M370.35 522.00v9.7M465.01 522.00v9.7M190.50 247.34h-9.5M190.50 342.00h-9.5M190.50 436.66h-9.5M589.85 224.40h9.6M589.85 342.30h9.6M589.85 460.20h9.6" stroke="#000" stroke-width="2.4" stroke-linecap="round" fill="none"/>
<text transform="translate(610.25 240.10) scale(1.000 1.036)">0.1</text>
<text transform="translate(610.25 358.00) scale(1.000 1.036)">0.0</text>
<text transform="translate(610.25 475.90) scale(1.000 1.036)">–0.1</text>
<text transform="translate(170.20 263.74) scale(1.000 1.036)" text-anchor="end">5</text>
<text transform="translate(170.20 358.40) scale(1.000 1.036)" text-anchor="end">0</text>
<text transform="translate(170.20 453.06) scale(1.000 1.036)" text-anchor="end">–5</text>
<text transform="translate(102.70 352.50) rotate(-90) scale(1.000 1.036)" class="i">y</text>
</g>
<g id="panel-b">
<rect x="769.70" y="162.60" width="18.50" height="18.00" fill="#f9e1e2"/>
<rect x="787.50" y="162.60" width="20.00" height="18.00" fill="#fae7e7"/>
<rect x="806.80" y="162.60" width="17.70" height="18.00" fill="#fceded"/>
<rect x="823.80" y="162.60" width="20.00" height="18.00" fill="#fae7e7"/>
<rect x="843.10" y="162.60" width="20.40" height="18.00" fill="#fceded"/>
<rect x="862.80" y="162.60" width="20.00" height="18.00" fill="#fbebeb"/>
<rect x="882.10" y="162.60" width="20.10" height="18.00" fill="#fae7e7"/>
<rect x="901.50" y="162.60" width="20.10" height="18.00" fill="#fceded"/>
<rect x="920.90" y="162.60" width="17.90" height="18.00" fill="#fbebeb"/>
<rect x="938.10" y="162.60" width="20.00" height="18.00" fill="#fbebeb"/>
<rect x="957.40" y="162.60" width="20.10" height="18.00" fill="#fbebeb"/>
<rect x="976.80" y="162.60" width="19.85" height="18.00" fill="#fceded"/>
<rect x="995.95" y="162.60" width="20.15" height="18.00" fill="#fae7e7"/>
<rect x="1015.40" y="162.60" width="20.10" height="18.00" fill="#fbebeb"/>
<rect x="1034.80" y="162.60" width="20.00" height="18.00" fill="#fceded"/>
<rect x="1054.10" y="162.60" width="18.30" height="18.00" fill="#fae7e7"/>
<rect x="1071.70" y="162.60" width="20.00" height="18.00" fill="#fceded"/>
<rect x="1091.00" y="162.60" width="19.70" height="18.00" fill="#fae7e7"/>
<rect x="1110.00" y="162.60" width="19.50" height="18.00" fill="#f9e1e2"/>
<rect x="769.70" y="179.90" width="18.50" height="19.80" fill="#fae7e7"/>
<rect x="787.50" y="179.90" width="20.00" height="19.80" fill="#fbebeb"/>
<rect x="806.80" y="179.90" width="17.70" height="19.80" fill="#fbe9e9"/>
<rect x="823.80" y="179.90" width="20.00" height="19.80" fill="#fae3e3"/>
<rect x="843.10" y="179.90" width="20.40" height="19.80" fill="#fae7e7"/>
<rect x="862.80" y="179.90" width="20.00" height="19.80" fill="#fbebeb"/>
<rect x="882.10" y="179.90" width="20.10" height="19.80" fill="#fceded"/>
<rect x="901.50" y="179.90" width="20.10" height="19.80" fill="#fceded"/>
<rect x="920.90" y="179.90" width="17.90" height="19.80" fill="#fbebeb"/>
<rect x="938.10" y="179.90" width="20.00" height="19.80" fill="#fdf7f7"/>
<rect x="957.40" y="179.90" width="20.10" height="19.80" fill="#fbebeb"/>
<rect x="976.80" y="179.90" width="19.85" height="19.80" fill="#fceded"/>
<rect x="995.95" y="179.90" width="20.15" height="19.80" fill="#fceded"/>
<rect x="1015.40" y="179.90" width="20.10" height="19.80" fill="#fbebeb"/>
<rect x="1034.80" y="179.90" width="20.00" height="19.80" fill="#fae7e7"/>
<rect x="1054.10" y="179.90" width="18.30" height="19.80" fill="#fae3e3"/>
<rect x="1071.70" y="179.90" width="20.00" height="19.80" fill="#fbe9e9"/>
<rect x="1091.00" y="179.90" width="19.70" height="19.80" fill="#fbebeb"/>
<rect x="1110.00" y="179.90" width="19.50" height="19.80" fill="#fae7e7"/>
<rect x="769.70" y="199.00" width="18.50" height="20.50" fill="#fceded"/>
<rect x="787.50" y="199.00" width="20.00" height="20.50" fill="#fbe9e9"/>
<rect x="806.80" y="199.00" width="17.70" height="20.50" fill="#fae7e7"/>
<rect x="823.80" y="199.00" width="20.00" height="20.50" fill="#fbe9e9"/>
<rect x="843.10" y="199.00" width="20.40" height="20.50" fill="#fae7e7"/>
<rect x="862.80" y="199.00" width="20.00" height="20.50" fill="#fbe9e9"/>
<rect x="882.10" y="199.00" width="20.10" height="20.50" fill="#fceded"/>
<rect x="901.50" y="199.00" width="20.10" height="20.50" fill="#fae7e7"/>
<rect x="920.90" y="199.00" width="17.90" height="20.50" fill="#fceded"/>
<rect x="938.10" y="199.00" width="20.00" height="20.50" fill="#fceded"/>
<rect x="957.40" y="199.00" width="20.10" height="20.50" fill="#fceded"/>
<rect x="976.80" y="199.00" width="19.85" height="20.50" fill="#fae7e7"/>
<rect x="995.95" y="199.00" width="20.15" height="20.50" fill="#fceded"/>
<rect x="1015.40" y="199.00" width="20.10" height="20.50" fill="#fbe9e9"/>
<rect x="1034.80" y="199.00" width="20.00" height="20.50" fill="#fae7e7"/>
<rect x="1054.10" y="199.00" width="18.30" height="20.50" fill="#fbe9e9"/>
<rect x="1071.70" y="199.00" width="20.00" height="20.50" fill="#fae7e7"/>
<rect x="1091.00" y="199.00" width="19.70" height="20.50" fill="#fbe9e9"/>
<rect x="1110.00" y="199.00" width="19.50" height="20.50" fill="#fceded"/>
<rect x="769.70" y="218.80" width="18.50" height="19.90" fill="#fae7e7"/>
<rect x="787.50" y="218.80" width="20.00" height="19.90" fill="#fae3e3"/>
<rect x="806.80" y="218.80" width="17.70" height="19.90" fill="#fbe9e9"/>
<rect x="823.80" y="218.80" width="20.00" height="19.90" fill="#fbe9e9"/>
<rect x="843.10" y="218.80" width="20.40" height="19.90" fill="#fae7e7"/>
<rect x="862.80" y="218.80" width="20.00" height="19.90" fill="#fcefef"/>
<rect x="882.10" y="218.80" width="20.10" height="19.90" fill="#fcefef"/>
<rect x="901.50" y="218.80" width="20.10" height="19.90" fill="#fcefef"/>
<rect x="920.90" y="218.80" width="17.90" height="19.90" fill="#fcefef"/>
<rect x="938.10" y="218.80" width="20.00" height="19.90" fill="#fef9f9"/>
<rect x="957.40" y="218.80" width="20.10" height="19.90" fill="#fcefef"/>
<rect x="976.80" y="218.80" width="19.85" height="19.90" fill="#fcefef"/>
<rect x="995.95" y="218.80" width="20.15" height="19.90" fill="#fcefef"/>
<rect x="1015.40" y="218.80" width="20.10" height="19.90" fill="#fcefef"/>
<rect x="1034.80" y="218.80" width="20.00" height="19.90" fill="#fae7e7"/>
<rect x="1054.10" y="218.80" width="18.30" height="19.90" fill="#fbe9e9"/>
<rect x="1071.70" y="218.80" width="20.00" height="19.90" fill="#fbe9e9"/>
<rect x="1091.00" y="218.80" width="19.70" height="19.90" fill="#fae3e3"/>
<rect x="1110.00" y="218.80" width="19.50" height="19.90" fill="#fae7e7"/>
<rect x="769.70" y="238.00" width="18.50" height="19.90" fill="#fceded"/>
<rect x="787.50" y="238.00" width="20.00" height="19.90" fill="#fae7e7"/>
<rect x="806.80" y="238.00" width="17.70" height="19.90" fill="#fae7e7"/>
<rect x="823.80" y="238.00" width="20.00" height="19.90" fill="#fae7e7"/>
<rect x="843.10" y="238.00" width="20.40" height="19.90" fill="#fcf1f1"/>
<rect x="862.80" y="238.00" width="20.00" height="19.90" fill="#fdf4f4"/>
<rect x="882.10" y="238.00" width="20.10" height="19.90" fill="#fdf4f4"/>
<rect x="901.50" y="238.00" width="20.10" height="19.90" fill="#fbfcfe"/>
<rect x="920.90" y="238.00" width="17.90" height="19.90" fill="#fbfcfe"/>
<rect x="938.10" y="238.00" width="20.00" height="19.90" fill="#f2f7fa"/>
<rect x="957.40" y="238.00" width="20.10" height="19.90" fill="#fbfcfe"/>
<rect x="976.80" y="238.00" width="19.85" height="19.90" fill="#fbfcfe"/>
<rect x="995.95" y="238.00" width="20.15" height="19.90" fill="#fdf4f4"/>
<rect x="1015.40" y="238.00" width="20.10" height="19.90" fill="#fdf4f4"/>
<rect x="1034.80" y="238.00" width="20.00" height="19.90" fill="#fcf1f1"/>
<rect x="1054.10" y="238.00" width="18.30" height="19.90" fill="#fae7e7"/>
<rect x="1071.70" y="238.00" width="20.00" height="19.90" fill="#fae7e7"/>
<rect x="1091.00" y="238.00" width="19.70" height="19.90" fill="#fae7e7"/>
<rect x="1110.00" y="238.00" width="19.50" height="19.90" fill="#fceded"/>
<rect x="769.70" y="257.20" width="18.50" height="20.10" fill="#fbebeb"/>
<rect x="787.50" y="257.20" width="20.00" height="20.10" fill="#fbebeb"/>
<rect x="806.80" y="257.20" width="17.70" height="20.10" fill="#fbe9e9"/>
<rect x="823.80" y="257.20" width="20.00" height="20.10" fill="#fcefef"/>
<rect x="843.10" y="257.20" width="20.40" height="20.10" fill="#fdf4f4"/>
<rect x="862.80" y="257.20" width="20.00" height="20.10" fill="#fcf1f1"/>
<rect x="882.10" y="257.20" width="20.10" height="20.10" fill="#edf4f9"/>
<rect x="901.50" y="257.20" width="20.10" height="20.10" fill="#d9e8f2"/>
<rect x="920.90" y="257.20" width="17.90" height="20.10" fill="#d2e4f0"/>
<rect x="938.10" y="257.20" width="20.00" height="20.10" fill="#d2e4f0"/>
<rect x="957.40" y="257.20" width="20.10" height="20.10" fill="#d2e4f0"/>
<rect x="976.80" y="257.20" width="19.85" height="20.10" fill="#d9e8f2"/>
<rect x="995.95" y="257.20" width="20.15" height="20.10" fill="#edf4f9"/>
<rect x="1015.40" y="257.20" width="20.10" height="20.10" fill="#fcf1f1"/>
<rect x="1034.80" y="257.20" width="20.00" height="20.10" fill="#fdf4f4"/>
<rect x="1054.10" y="257.20" width="18.30" height="20.10" fill="#fcefef"/>
<rect x="1071.70" y="257.20" width="20.00" height="20.10" fill="#fbe9e9"/>
<rect x="1091.00" y="257.20" width="19.70" height="20.10" fill="#fbebeb"/>
<rect x="1110.00" y="257.20" width="19.50" height="20.10" fill="#fbebeb"/>
<rect x="769.70" y="276.60" width="18.50" height="18.20" fill="#fae7e7"/>
<rect x="787.50" y="276.60" width="20.00" height="18.20" fill="#fceded"/>
<rect x="806.80" y="276.60" width="17.70" height="18.20" fill="#fceded"/>
<rect x="823.80" y="276.60" width="20.00" height="18.20" fill="#fcefef"/>
<rect x="843.10" y="276.60" width="20.40" height="18.20" fill="#fdf4f4"/>
<rect x="862.80" y="276.60" width="20.00" height="18.20" fill="#edf4f9"/>
<rect x="882.10" y="276.60" width="20.10" height="18.20" fill="#d4e5f1"/>
<rect x="901.50" y="276.60" width="20.10" height="18.20" fill="#c3daeb"/>
<rect x="920.90" y="276.60" width="17.90" height="18.20" fill="#accde3"/>
<rect x="938.10" y="276.60" width="20.00" height="18.20" fill="#a1c6e0"/>
<rect x="957.40" y="276.60" width="20.10" height="18.20" fill="#accde3"/>
<rect x="976.80" y="276.60" width="19.85" height="18.20" fill="#c3daeb"/>
<rect x="995.95" y="276.60" width="20.15" height="18.20" fill="#d4e5f1"/>
<rect x="1015.40" y="276.60" width="20.10" height="18.20" fill="#edf4f9"/>
<rect x="1034.80" y="276.60" width="20.00" height="18.20" fill="#fdf4f4"/>
<rect x="1054.10" y="276.60" width="18.30" height="18.20" fill="#fcefef"/>
<rect x="1071.70" y="276.60" width="20.00" height="18.20" fill="#fceded"/>
<rect x="1091.00" y="276.60" width="19.70" height="18.20" fill="#fceded"/>
<rect x="1110.00" y="276.60" width="19.50" height="18.20" fill="#fae7e7"/>
<rect x="769.70" y="294.10" width="18.50" height="20.10" fill="#fceded"/>
<rect x="787.50" y="294.10" width="20.00" height="20.10" fill="#fceded"/>
<rect x="806.80" y="294.10" width="17.70" height="20.10" fill="#fae7e7"/>
<rect x="823.80" y="294.10" width="20.00" height="20.10" fill="#fcefef"/>
<rect x="843.10" y="294.10" width="20.40" height="20.10" fill="#fbfcfe"/>
<rect x="862.80" y="294.10" width="20.00" height="20.10" fill="#d9e8f2"/>
<rect x="882.10" y="294.10" width="20.10" height="20.10" fill="#c3daeb"/>
<rect x="901.50" y="294.10" width="20.10" height="20.10" fill="#9cc3de"/>
<rect x="920.90" y="294.10" width="17.90" height="20.10" fill="#7db0d4"/>
<rect x="938.10" y="294.10" width="20.00" height="20.10" fill="#69a4cd"/>
<rect x="957.40" y="294.10" width="20.10" height="20.10" fill="#7db0d4"/>
<rect x="976.80" y="294.10" width="19.85" height="20.10" fill="#9cc3de"/>
<rect x="995.95" y="294.10" width="20.15" height="20.10" fill="#c3daeb"/>
<rect x="1015.40" y="294.10" width="20.10" height="20.10" fill="#d9e8f2"/>
<rect x="1034.80" y="294.10" width="20.00" height="20.10" fill="#fbfcfe"/>
<rect x="1054.10" y="294.10" width="18.30" height="20.10" fill="#fcefef"/>
<rect x="1071.70" y="294.10" width="20.00" height="20.10" fill="#fae7e7"/>
<rect x="1091.00" y="294.10" width="19.70" height="20.10" fill="#fceded"/>
<rect x="1110.00" y="294.10" width="19.50" height="20.10" fill="#fceded"/>
<rect x="769.70" y="313.50" width="18.50" height="19.90" fill="#fbebeb"/>
<rect x="787.50" y="313.50" width="20.00" height="19.90" fill="#fbebeb"/>
<rect x="806.80" y="313.50" width="17.70" height="19.90" fill="#fceded"/>
<rect x="823.80" y="313.50" width="20.00" height="19.90" fill="#fcefef"/>
<rect x="843.10" y="313.50" width="20.40" height="19.90" fill="#fbfcfe"/>
<rect x="862.80" y="313.50" width="20.00" height="19.90" fill="#d2e4f0"/>
<rect x="882.10" y="313.50" width="20.10" height="19.90" fill="#accde3"/>
<rect x="901.50" y="313.50" width="20.10" height="19.90" fill="#7db0d4"/>
<rect x="920.90" y="313.50" width="17.90" height="19.90" fill="#5598c6"/>
<rect x="938.10" y="313.50" width="20.00" height="19.90" fill="#2f81b9"/>
<rect x="957.40" y="313.50" width="20.10" height="19.90" fill="#5598c6"/>
<rect x="976.80" y="313.50" width="19.85" height="19.90" fill="#7db0d4"/>
<rect x="995.95" y="313.50" width="20.15" height="19.90" fill="#accde3"/>
<rect x="1015.40" y="313.50" width="20.10" height="19.90" fill="#d2e4f0"/>
<rect x="1034.80" y="313.50" width="20.00" height="19.90" fill="#fbfcfe"/>
<rect x="1054.10" y="313.50" width="18.30" height="19.90" fill="#fcefef"/>
<rect x="1071.70" y="313.50" width="20.00" height="19.90" fill="#fceded"/>
<rect x="1091.00" y="313.50" width="19.70" height="19.90" fill="#fbebeb"/>
<rect x="1110.00" y="313.50" width="19.50" height="19.90" fill="#fbebeb"/>
<rect x="769.70" y="332.70" width="18.50" height="20.00" fill="#fbebeb"/>
<rect x="787.50" y="332.70" width="20.00" height="20.00" fill="#fdf7f7"/>
<rect x="806.80" y="332.70" width="17.70" height="20.00" fill="#fceded"/>
<rect x="823.80" y="332.70" width="20.00" height="20.00" fill="#fef9f9"/>
<rect x="843.10" y="332.70" width="20.40" height="20.00" fill="#f2f7fa"/>
<rect x="862.80" y="332.70" width="20.00" height="20.00" fill="#d2e4f0"/>
<rect x="882.10" y="332.70" width="20.10" height="20.00" fill="#a1c6e0"/>
<rect x="901.50" y="332.70" width="20.10" height="20.00" fill="#69a4cd"/>
<rect x="920.90" y="332.70" width="17.90" height="20.00" fill="#2f81b9"/>
<rect x="938.10" y="332.70" width="20.00" height="20.00" fill="#ffffff"/>
<rect x="957.40" y="332.70" width="20.10" height="20.00" fill="#2f81b9"/>
<rect x="976.80" y="332.70" width="19.85" height="20.00" fill="#69a4cd"/>
<rect x="995.95" y="332.70" width="20.15" height="20.00" fill="#a1c6e0"/>
<rect x="1015.40" y="332.70" width="20.10" height="20.00" fill="#d2e4f0"/>
<rect x="1034.80" y="332.70" width="20.00" height="20.00" fill="#f2f7fa"/>
<rect x="1054.10" y="332.70" width="18.30" height="20.00" fill="#fef9f9"/>
<rect x="1071.70" y="332.70" width="20.00" height="20.00" fill="#fceded"/>
<rect x="1091.00" y="332.70" width="19.70" height="20.00" fill="#fdf7f7"/>
<rect x="1110.00" y="332.70" width="19.50" height="20.00" fill="#fbebeb"/>
<rect x="769.70" y="352.00" width="18.50" height="20.00" fill="#fbebeb"/>
<rect x="787.50" y="352.00" width="20.00" height="20.00" fill="#fbebeb"/>
<rect x="806.80" y="352.00" width="17.70" height="20.00" fill="#fceded"/>
<rect x="823.80" y="352.00" width="20.00" height="20.00" fill="#fcefef"/>
<rect x="843.10" y="352.00" width="20.40" height="20.00" fill="#fbfcfe"/>
<rect x="862.80" y="352.00" width="20.00" height="20.00" fill="#d2e4f0"/>
<rect x="882.10" y="352.00" width="20.10" height="20.00" fill="#accde3"/>
<rect x="901.50" y="352.00" width="20.10" height="20.00" fill="#7db0d4"/>
<rect x="920.90" y="352.00" width="17.90" height="20.00" fill="#5598c6"/>
<rect x="938.10" y="352.00" width="20.00" height="20.00" fill="#2f81b9"/>
<rect x="957.40" y="352.00" width="20.10" height="20.00" fill="#5598c6"/>
<rect x="976.80" y="352.00" width="19.85" height="20.00" fill="#7db0d4"/>
<rect x="995.95" y="352.00" width="20.15" height="20.00" fill="#accde3"/>
<rect x="1015.40" y="352.00" width="20.10" height="20.00" fill="#d2e4f0"/>
<rect x="1034.80" y="352.00" width="20.00" height="20.00" fill="#fbfcfe"/>
<rect x="1054.10" y="352.00" width="18.30" height="20.00" fill="#fcefef"/>
<rect x="1071.70" y="352.00" width="20.00" height="20.00" fill="#fceded"/>
<rect x="1091.00" y="352.00" width="19.70" height="20.00" fill="#fbebeb"/>
<rect x="1110.00" y="352.00" width="19.50" height="20.00" fill="#fbebeb"/>
<rect x="769.70" y="371.30" width="18.50" height="19.90" fill="#fceded"/>
<rect x="787.50" y="371.30" width="20.00" height="19.90" fill="#fceded"/>
<rect x="806.80" y="371.30" width="17.70" height="19.90" fill="#fae7e7"/>
<rect x="823.80" y="371.30" width="20.00" height="19.90" fill="#fcefef"/>
<rect x="843.10" y="371.30" width="20.40" height="19.90" fill="#fbfcfe"/>
<rect x="862.80" y="371.30" width="20.00" height="19.90" fill="#d9e8f2"/>
<rect x="882.10" y="371.30" width="20.10" height="19.90" fill="#c3daeb"/>
<rect x="901.50" y="371.30" width="20.10" height="19.90" fill="#9cc3de"/>
<rect x="920.90" y="371.30" width="17.90" height="19.90" fill="#7db0d4"/>
<rect x="938.10" y="371.30" width="20.00" height="19.90" fill="#69a4cd"/>
<rect x="957.40" y="371.30" width="20.10" height="19.90" fill="#7db0d4"/>
<rect x="976.80" y="371.30" width="19.85" height="19.90" fill="#9cc3de"/>
<rect x="995.95" y="371.30" width="20.15" height="19.90" fill="#c3daeb"/>
<rect x="1015.40" y="371.30" width="20.10" height="19.90" fill="#d9e8f2"/>
<rect x="1034.80" y="371.30" width="20.00" height="19.90" fill="#fbfcfe"/>
<rect x="1054.10" y="371.30" width="18.30" height="19.90" fill="#fcefef"/>
<rect x="1071.70" y="371.30" width="20.00" height="19.90" fill="#fae7e7"/>
<rect x="1091.00" y="371.30" width="19.70" height="19.90" fill="#fceded"/>
<rect x="1110.00" y="371.30" width="19.50" height="19.90" fill="#fceded"/>
<rect x="769.70" y="390.50" width="18.50" height="17.90" fill="#fae7e7"/>
<rect x="787.50" y="390.50" width="20.00" height="17.90" fill="#fceded"/>
<rect x="806.80" y="390.50" width="17.70" height="17.90" fill="#fceded"/>
<rect x="823.80" y="390.50" width="20.00" height="17.90" fill="#fcefef"/>
<rect x="843.10" y="390.50" width="20.40" height="17.90" fill="#fdf4f4"/>
<rect x="862.80" y="390.50" width="20.00" height="17.90" fill="#edf4f9"/>
<rect x="882.10" y="390.50" width="20.10" height="17.90" fill="#d4e5f1"/>
<rect x="901.50" y="390.50" width="20.10" height="17.90" fill="#c3daeb"/>
<rect x="920.90" y="390.50" width="17.90" height="17.90" fill="#accde3"/>
<rect x="938.10" y="390.50" width="20.00" height="17.90" fill="#a1c6e0"/>
<rect x="957.40" y="390.50" width="20.10" height="17.90" fill="#accde3"/>
<rect x="976.80" y="390.50" width="19.85" height="17.90" fill="#c3daeb"/>
<rect x="995.95" y="390.50" width="20.15" height="17.90" fill="#d4e5f1"/>
<rect x="1015.40" y="390.50" width="20.10" height="17.90" fill="#edf4f9"/>
<rect x="1034.80" y="390.50" width="20.00" height="17.90" fill="#fdf4f4"/>
<rect x="1054.10" y="390.50" width="18.30" height="17.90" fill="#fcefef"/>
<rect x="1071.70" y="390.50" width="20.00" height="17.90" fill="#fceded"/>
<rect x="1091.00" y="390.50" width="19.70" height="17.90" fill="#fceded"/>
<rect x="1110.00" y="390.50" width="19.50" height="17.90" fill="#fae7e7"/>
<rect x="769.70" y="407.70" width="18.50" height="20.00" fill="#fbebeb"/>
<rect x="787.50" y="407.70" width="20.00" height="20.00" fill="#fbebeb"/>
<rect x="806.80" y="407.70" width="17.70" height="20.00" fill="#fbe9e9"/>
<rect x="823.80" y="407.70" width="20.00" height="20.00" fill="#fcefef"/>
<rect x="843.10" y="407.70" width="20.40" height="20.00" fill="#fdf4f4"/>
<rect x="862.80" y="407.70" width="20.00" height="20.00" fill="#fcf1f1"/>
<rect x="882.10" y="407.70" width="20.10" height="20.00" fill="#edf4f9"/>
<rect x="901.50" y="407.70" width="20.10" height="20.00" fill="#d9e8f2"/>
<rect x="920.90" y="407.70" width="17.90" height="20.00" fill="#d2e4f0"/>
<rect x="938.10" y="407.70" width="20.00" height="20.00" fill="#d2e4f0"/>
<rect x="957.40" y="407.70" width="20.10" height="20.00" fill="#d2e4f0"/>
<rect x="976.80" y="407.70" width="19.85" height="20.00" fill="#d9e8f2"/>
<rect x="995.95" y="407.70" width="20.15" height="20.00" fill="#edf4f9"/>
<rect x="1015.40" y="407.70" width="20.10" height="20.00" fill="#fcf1f1"/>
<rect x="1034.80" y="407.70" width="20.00" height="20.00" fill="#fdf4f4"/>
<rect x="1054.10" y="407.70" width="18.30" height="20.00" fill="#fcefef"/>
<rect x="1071.70" y="407.70" width="20.00" height="20.00" fill="#fbe9e9"/>
<rect x="1091.00" y="407.70" width="19.70" height="20.00" fill="#fbebeb"/>
<rect x="1110.00" y="407.70" width="19.50" height="20.00" fill="#fbebeb"/>
<rect x="769.70" y="427.00" width="18.50" height="20.10" fill="#fceded"/>
<rect x="787.50" y="427.00" width="20.00" height="20.10" fill="#fae7e7"/>
<rect x="806.80" y="427.00" width="17.70" height="20.10" fill="#fae7e7"/>
<rect x="823.80" y="427.00" width="20.00" height="20.10" fill="#fae7e7"/>
<rect x="843.10" y="427.00" width="20.40" height="20.10" fill="#fcf1f1"/>
<rect x="862.80" y="427.00" width="20.00" height="20.10" fill="#fdf4f4"/>
<rect x="882.10" y="427.00" width="20.10" height="20.10" fill="#fdf4f4"/>
<rect x="901.50" y="427.00" width="20.10" height="20.10" fill="#fbfcfe"/>
<rect x="920.90" y="427.00" width="17.90" height="20.10" fill="#fbfcfe"/>
<rect x="938.10" y="427.00" width="20.00" height="20.10" fill="#f2f7fa"/>
<rect x="957.40" y="427.00" width="20.10" height="20.10" fill="#fbfcfe"/>
<rect x="976.80" y="427.00" width="19.85" height="20.10" fill="#fbfcfe"/>
<rect x="995.95" y="427.00" width="20.15" height="20.10" fill="#fdf4f4"/>
<rect x="1015.40" y="427.00" width="20.10" height="20.10" fill="#fdf4f4"/>
<rect x="1034.80" y="427.00" width="20.00" height="20.10" fill="#fcf1f1"/>
<rect x="1054.10" y="427.00" width="18.30" height="20.10" fill="#fae7e7"/>
<rect x="1071.70" y="427.00" width="20.00" height="20.10" fill="#fae7e7"/>
<rect x="1091.00" y="427.00" width="19.70" height="20.10" fill="#fae7e7"/>
<rect x="1110.00" y="427.00" width="19.50" height="20.10" fill="#fceded"/>
<rect x="769.70" y="446.40" width="18.50" height="20.30" fill="#fae7e7"/>
<rect x="787.50" y="446.40" width="20.00" height="20.30" fill="#fae3e3"/>
<rect x="806.80" y="446.40" width="17.70" height="20.30" fill="#fbe9e9"/>
<rect x="823.80" y="446.40" width="20.00" height="20.30" fill="#fbe9e9"/>
<rect x="843.10" y="446.40" width="20.40" height="20.30" fill="#fae7e7"/>
<rect x="862.80" y="446.40" width="20.00" height="20.30" fill="#fcefef"/>
<rect x="882.10" y="446.40" width="20.10" height="20.30" fill="#fcefef"/>
<rect x="901.50" y="446.40" width="20.10" height="20.30" fill="#fcefef"/>
<rect x="920.90" y="446.40" width="17.90" height="20.30" fill="#fcefef"/>
<rect x="938.10" y="446.40" width="20.00" height="20.30" fill="#fef9f9"/>
<rect x="957.40" y="446.40" width="20.10" height="20.30" fill="#fcefef"/>
<rect x="976.80" y="446.40" width="19.85" height="20.30" fill="#fcefef"/>
<rect x="995.95" y="446.40" width="20.15" height="20.30" fill="#fcefef"/>
<rect x="1015.40" y="446.40" width="20.10" height="20.30" fill="#fcefef"/>
<rect x="1034.80" y="446.40" width="20.00" height="20.30" fill="#fae7e7"/>
<rect x="1054.10" y="446.40" width="18.30" height="20.30" fill="#fbe9e9"/>
<rect x="1071.70" y="446.40" width="20.00" height="20.30" fill="#fbe9e9"/>
<rect x="1091.00" y="446.40" width="19.70" height="20.30" fill="#fae3e3"/>
<rect x="1110.00" y="446.40" width="19.50" height="20.30" fill="#fae7e7"/>
<rect x="769.70" y="466.00" width="18.50" height="19.70" fill="#fceded"/>
<rect x="787.50" y="466.00" width="20.00" height="19.70" fill="#fbe9e9"/>
<rect x="806.80" y="466.00" width="17.70" height="19.70" fill="#fae7e7"/>
<rect x="823.80" y="466.00" width="20.00" height="19.70" fill="#fbe9e9"/>
<rect x="843.10" y="466.00" width="20.40" height="19.70" fill="#fae7e7"/>
<rect x="862.80" y="466.00" width="20.00" height="19.70" fill="#fbe9e9"/>
<rect x="882.10" y="466.00" width="20.10" height="19.70" fill="#fceded"/>
<rect x="901.50" y="466.00" width="20.10" height="19.70" fill="#fae7e7"/>
<rect x="920.90" y="466.00" width="17.90" height="19.70" fill="#fceded"/>
<rect x="938.10" y="466.00" width="20.00" height="19.70" fill="#fceded"/>
<rect x="957.40" y="466.00" width="20.10" height="19.70" fill="#fceded"/>
<rect x="976.80" y="466.00" width="19.85" height="19.70" fill="#fae7e7"/>
<rect x="995.95" y="466.00" width="20.15" height="19.70" fill="#fceded"/>
<rect x="1015.40" y="466.00" width="20.10" height="19.70" fill="#fbe9e9"/>
<rect x="1034.80" y="466.00" width="20.00" height="19.70" fill="#fae7e7"/>
<rect x="1054.10" y="466.00" width="18.30" height="19.70" fill="#fbe9e9"/>
<rect x="1071.70" y="466.00" width="20.00" height="19.70" fill="#fae7e7"/>
<rect x="1091.00" y="466.00" width="19.70" height="19.70" fill="#fbe9e9"/>
<rect x="1110.00" y="466.00" width="19.50" height="19.70" fill="#fceded"/>
<rect x="769.70" y="485.00" width="18.50" height="20.00" fill="#fae7e7"/>
<rect x="787.50" y="485.00" width="20.00" height="20.00" fill="#fbebeb"/>
<rect x="806.80" y="485.00" width="17.70" height="20.00" fill="#fbe9e9"/>
<rect x="823.80" y="485.00" width="20.00" height="20.00" fill="#fae3e3"/>
<rect x="843.10" y="485.00" width="20.40" height="20.00" fill="#fae7e7"/>
<rect x="862.80" y="485.00" width="20.00" height="20.00" fill="#fbebeb"/>
<rect x="882.10" y="485.00" width="20.10" height="20.00" fill="#fceded"/>
<rect x="901.50" y="485.00" width="20.10" height="20.00" fill="#fceded"/>
<rect x="920.90" y="485.00" width="17.90" height="20.00" fill="#fbebeb"/>
<rect x="938.10" y="485.00" width="20.00" height="20.00" fill="#fdf7f7"/>
<rect x="957.40" y="485.00" width="20.10" height="20.00" fill="#fbebeb"/>
<rect x="976.80" y="485.00" width="19.85" height="20.00" fill="#fceded"/>
<rect x="995.95" y="485.00" width="20.15" height="20.00" fill="#fceded"/>
<rect x="1015.40" y="485.00" width="20.10" height="20.00" fill="#fbebeb"/>
<rect x="1034.80" y="485.00" width="20.00" height="20.00" fill="#fae7e7"/>
<rect x="1054.10" y="485.00" width="18.30" height="20.00" fill="#fae3e3"/>
<rect x="1071.70" y="485.00" width="20.00" height="20.00" fill="#fbe9e9"/>
<rect x="1091.00" y="485.00" width="19.70" height="20.00" fill="#fbebeb"/>
<rect x="1110.00" y="485.00" width="19.50" height="20.00" fill="#fae7e7"/>
<rect x="769.70" y="504.30" width="18.50" height="17.70" fill="#f9e1e2"/>
<rect x="787.50" y="504.30" width="20.00" height="17.70" fill="#fae7e7"/>
<rect x="806.80" y="504.30" width="17.70" height="17.70" fill="#fceded"/>
<rect x="823.80" y="504.30" width="20.00" height="17.70" fill="#fae7e7"/>
<rect x="843.10" y="504.30" width="20.40" height="17.70" fill="#fceded"/>
<rect x="862.80" y="504.30" width="20.00" height="17.70" fill="#fbebeb"/>
<rect x="882.10" y="504.30" width="20.10" height="17.70" fill="#fae7e7"/>
<rect x="901.50" y="504.30" width="20.10" height="17.70" fill="#fceded"/>
<rect x="920.90" y="504.30" width="17.90" height="17.70" fill="#fbebeb"/>
<rect x="938.10" y="504.30" width="20.00" height="17.70" fill="#fbebeb"/>
<rect x="957.40" y="504.30" width="20.10" height="17.70" fill="#fbebeb"/>
<rect x="976.80" y="504.30" width="19.85" height="17.70" fill="#fceded"/>
<rect x="995.95" y="504.30" width="20.15" height="17.70" fill="#fae7e7"/>
<rect x="1015.40" y="504.30" width="20.10" height="17.70" fill="#fbebeb"/>
<rect x="1034.80" y="504.30" width="20.00" height="17.70" fill="#fceded"/>
<rect x="1054.10" y="504.30" width="18.30" height="17.70" fill="#fae7e7"/>
<rect x="1071.70" y="504.30" width="20.00" height="17.70" fill="#fceded"/>
<rect x="1091.00" y="504.30" width="19.70" height="17.70" fill="#fae7e7"/>
<rect x="1110.00" y="504.30" width="19.50" height="17.70" fill="#f9e1e2"/>
<rect x="769.70" y="162.60" width="359.80" height="359.40" fill="none" stroke="#000" stroke-width="2.6"/>
<rect x="1140.40" y="162.60" width="28.60" height="359.40" fill="url(#cm)" stroke="#000" stroke-width="2.6"/>
<path d="M854.92 522.00v9.7M949.60 522.00v9.7M1044.28 522.00v9.7M769.70 247.32h-9.5M769.70 342.00h-9.5M769.70 436.68h-9.5M1169.00 192.80h9.6M1169.00 342.30h9.6M1169.00 491.80h9.6" stroke="#000" stroke-width="2.4" stroke-linecap="round" fill="none"/>
<text transform="translate(1189.40 208.50) scale(1.000 1.036)">0.05</text>
<text transform="translate(1189.40 358.00) scale(1.000 1.036)">0.00</text>
<text transform="translate(1189.40 507.50) scale(1.000 1.036)">–0.05</text>
<text transform="translate(1335.90 401.40) rotate(-90) scale(1.000 1.036)">4<tspan class="i">C</tspan><tspan class="i sub" dy="9">ρ</tspan><tspan dy="-9">(</tspan><tspan class="b">r</tspan>)</text>
</g>
<g id="panel-c">
<rect x="190.50" y="594.30" width="16.70" height="18.90" fill="#f5c9c9"/>
<rect x="206.50" y="594.30" width="20.16" height="18.90" fill="#f5c9c9"/>
<rect x="225.96" y="594.30" width="19.89" height="18.90" fill="#f5c9c9"/>
<rect x="245.15" y="594.30" width="19.95" height="18.90" fill="#f5c9c9"/>
<rect x="264.40" y="594.30" width="20.40" height="18.90" fill="#f5caca"/>
<rect x="284.10" y="594.30" width="17.75" height="18.90" fill="#f5cbcb"/>
<rect x="301.15" y="594.30" width="20.10" height="18.90" fill="#f5cccc"/>
<rect x="320.55" y="594.30" width="20.11" height="18.90" fill="#f6cdcd"/>
<rect x="339.96" y="594.30" width="20.04" height="18.90" fill="#f6cece"/>
<rect x="359.30" y="594.30" width="20.30" height="18.90" fill="#f6cecf"/>
<rect x="378.90" y="594.30" width="19.90" height="18.90" fill="#f6cece"/>
<rect x="398.10" y="594.30" width="17.80" height="18.90" fill="#f6cdcd"/>
<rect x="415.20" y="594.30" width="20.35" height="18.90" fill="#f5cccc"/>
<rect x="434.85" y="594.30" width="19.95" height="18.90" fill="#f5cbcb"/>
<rect x="454.10" y="594.30" width="20.00" height="18.90" fill="#f5caca"/>
<rect x="473.40" y="594.30" width="20.10" height="18.90" fill="#f5c9c9"/>
<rect x="492.80" y="594.30" width="19.90" height="18.90" fill="#f5c9c9"/>
<rect x="512.00" y="594.30" width="20.40" height="18.90" fill="#f5c9c9"/>
<rect x="531.70" y="594.30" width="18.50" height="18.90" fill="#f5c9c9"/>
<rect x="190.50" y="612.50" width="16.70" height="19.90" fill="#f5c9c9"/>
<rect x="206.50" y="612.50" width="20.16" height="19.90" fill="#f5c9c9"/>
<rect x="225.96" y="612.50" width="19.89" height="19.90" fill="#f5c9ca"/>
<rect x="245.15" y="612.50" width="19.95" height="19.90" fill="#f5caca"/>
<rect x="264.40" y="612.50" width="20.40" height="19.90" fill="#f5cccc"/>
<rect x="284.10" y="612.50" width="17.75" height="19.90" fill="#f6cfcf"/>
<rect x="301.15" y="612.50" width="20.10" height="19.90" fill="#f7d4d5"/>
<rect x="320.55" y="612.50" width="20.11" height="19.90" fill="#f8dada"/>
<rect x="339.96" y="612.50" width="20.04" height="19.90" fill="#f9ddde"/>
<rect x="359.30" y="612.50" width="20.30" height="19.90" fill="#f9dfdf"/>
<rect x="378.90" y="612.50" width="19.90" height="19.90" fill="#f9ddde"/>
<rect x="398.10" y="612.50" width="17.80" height="19.90" fill="#f8dada"/>
<rect x="415.20" y="612.50" width="20.35" height="19.90" fill="#f7d4d5"/>
<rect x="434.85" y="612.50" width="19.95" height="19.90" fill="#f6cfcf"/>
<rect x="454.10" y="612.50" width="20.00" height="19.90" fill="#f5cccc"/>
<rect x="473.40" y="612.50" width="20.10" height="19.90" fill="#f5caca"/>
<rect x="492.80" y="612.50" width="19.90" height="19.90" fill="#f5c9ca"/>
<rect x="512.00" y="612.50" width="20.40" height="19.90" fill="#f5c9c9"/>
<rect x="531.70" y="612.50" width="18.50" height="19.90" fill="#f5c9c9"/>
<rect x="190.50" y="631.70" width="16.70" height="20.10" fill="#f5c9c9"/>
<rect x="206.50" y="631.70" width="20.16" height="20.10" fill="#f5c9ca"/>
<rect x="225.96" y="631.70" width="19.89" height="20.10" fill="#f5cacb"/>
<rect x="245.15" y="631.70" width="19.95" height="20.10" fill="#f6cdcd"/>
<rect x="264.40" y="631.70" width="20.40" height="20.10" fill="#f7d4d4"/>
<rect x="284.10" y="631.70" width="17.75" height="20.10" fill="#f9ddde"/>
<rect x="301.15" y="631.70" width="20.10" height="20.10" fill="#fbe9e9"/>
<rect x="320.55" y="631.70" width="20.11" height="20.10" fill="#fcf1f1"/>
<rect x="339.96" y="631.70" width="20.04" height="20.10" fill="#fdf7f7"/>
<rect x="359.30" y="631.70" width="20.30" height="20.10" fill="#fef9f9"/>
<rect x="378.90" y="631.70" width="19.90" height="20.10" fill="#fdf7f7"/>
<rect x="398.10" y="631.70" width="17.80" height="20.10" fill="#fcf1f1"/>
<rect x="415.20" y="631.70" width="20.35" height="20.10" fill="#fbe9e9"/>
<rect x="434.85" y="631.70" width="19.95" height="20.10" fill="#f9ddde"/>
<rect x="454.10" y="631.70" width="20.00" height="20.10" fill="#f7d4d4"/>
<rect x="473.40" y="631.70" width="20.10" height="20.10" fill="#f6cdcd"/>
<rect x="492.80" y="631.70" width="19.90" height="20.10" fill="#f5cacb"/>
<rect x="512.00" y="631.70" width="20.40" height="20.10" fill="#f5c9ca"/>
<rect x="531.70" y="631.70" width="18.50" height="20.10" fill="#f5c9c9"/>
<rect x="190.50" y="651.10" width="16.70" height="17.80" fill="#f5c9c9"/>
<rect x="206.50" y="651.10" width="20.16" height="17.80" fill="#f5caca"/>
<rect x="225.96" y="651.10" width="19.89" height="17.80" fill="#f6cdcd"/>
<rect x="245.15" y="651.10" width="19.95" height="17.80" fill="#f7d5d5"/>
<rect x="264.40" y="651.10" width="20.40" height="17.80" fill="#fae4e4"/>
<rect x="284.10" y="651.10" width="17.75" height="17.80" fill="#fdf3f3"/>
<rect x="301.15" y="651.10" width="20.10" height="17.80" fill="#fdfefe"/>
<rect x="320.55" y="651.10" width="20.11" height="17.80" fill="#f0f6fa"/>
<rect x="339.96" y="651.10" width="20.04" height="17.80" fill="#e7f0f7"/>
<rect x="359.30" y="651.10" width="20.30" height="17.80" fill="#e4eff6"/>
<rect x="378.90" y="651.10" width="19.90" height="17.80" fill="#e7f0f7"/>
<rect x="398.10" y="651.10" width="17.80" height="17.80" fill="#f0f6fa"/>
<rect x="415.20" y="651.10" width="20.35" height="17.80" fill="#fdfefe"/>
<rect x="434.85" y="651.10" width="19.95" height="17.80" fill="#fdf3f3"/>
<rect x="454.10" y="651.10" width="20.00" height="17.80" fill="#fae4e4"/>
<rect x="473.40" y="651.10" width="20.10" height="17.80" fill="#f7d5d5"/>
<rect x="492.80" y="651.10" width="19.90" height="17.80" fill="#f6cdcd"/>
<rect x="512.00" y="651.10" width="20.40" height="17.80" fill="#f5caca"/>
<rect x="531.70" y="651.10" width="18.50" height="17.80" fill="#f5c9c9"/>
<rect x="190.50" y="668.20" width="16.70" height="20.10" fill="#f5caca"/>
<rect x="206.50" y="668.20" width="20.16" height="20.10" fill="#f5cccc"/>
<rect x="225.96" y="668.20" width="19.89" height="20.10" fill="#f7d4d4"/>
<rect x="245.15" y="668.20" width="19.95" height="20.10" fill="#fae4e4"/>
<rect x="264.40" y="668.20" width="20.40" height="20.10" fill="#fdf7f7"/>
<rect x="284.10" y="668.20" width="17.75" height="20.10" fill="#f3f7fb"/>
<rect x="301.15" y="668.20" width="20.10" height="20.10" fill="#ddebf4"/>
<rect x="320.55" y="668.20" width="20.11" height="20.10" fill="#cbe0ee"/>
<rect x="339.96" y="668.20" width="20.04" height="20.10" fill="#c0d9ea"/>
<rect x="359.30" y="668.20" width="20.30" height="20.10" fill="#bcd6e8"/>
<rect x="378.90" y="668.20" width="19.90" height="20.10" fill="#c0d9ea"/>
<rect x="398.10" y="668.20" width="17.80" height="20.10" fill="#cbe0ee"/>
<rect x="415.20" y="668.20" width="20.35" height="20.10" fill="#ddebf4"/>
<rect x="434.85" y="668.20" width="19.95" height="20.10" fill="#f3f7fb"/>
<rect x="454.10" y="668.20" width="20.00" height="20.10" fill="#fdf7f7"/>
<rect x="473.40" y="668.20" width="20.10" height="20.10" fill="#fae4e4"/>
<rect x="492.80" y="668.20" width="19.90" height="20.10" fill="#f7d4d4"/>
<rect x="512.00" y="668.20" width="20.40" height="20.10" fill="#f5cccc"/>
<rect x="531.70" y="668.20" width="18.50" height="20.10" fill="#f5caca"/>
<rect x="190.50" y="687.60" width="16.70" height="19.90" fill="#f5cbcb"/>
<rect x="206.50" y="687.60" width="20.16" height="19.90" fill="#f6cfcf"/>
<rect x="225.96" y="687.60" width="19.89" height="19.90" fill="#f9ddde"/>
<rect x="245.15" y="687.60" width="19.95" height="19.90" fill="#fdf3f3"/>
<rect x="264.40" y="687.60" width="20.40" height="19.90" fill="#f3f7fb"/>
<rect x="284.10" y="687.60" width="17.75" height="19.90" fill="#d6e6f1"/>
<rect x="301.15" y="687.60" width="20.10" height="19.90" fill="#bcd6e8"/>
<rect x="320.55" y="687.60" width="20.11" height="19.90" fill="#a7c9e1"/>
<rect x="339.96" y="687.60" width="20.04" height="19.90" fill="#98c1dd"/>
<rect x="359.30" y="687.60" width="20.30" height="19.90" fill="#93bedb"/>
<rect x="378.90" y="687.60" width="19.90" height="19.90" fill="#98c1dd"/>
<rect x="398.10" y="687.60" width="17.80" height="19.90" fill="#a7c9e1"/>
<rect x="415.20" y="687.60" width="20.35" height="19.90" fill="#bcd6e8"/>
<rect x="434.85" y="687.60" width="19.95" height="19.90" fill="#d6e6f1"/>
<rect x="454.10" y="687.60" width="20.00" height="19.90" fill="#f3f7fb"/>
<rect x="473.40" y="687.60" width="20.10" height="19.90" fill="#fdf3f3"/>
<rect x="492.80" y="687.60" width="19.90" height="19.90" fill="#f9ddde"/>
<rect x="512.00" y="687.60" width="20.40" height="19.90" fill="#f6cfcf"/>
<rect x="531.70" y="687.60" width="18.50" height="19.90" fill="#f5cbcb"/>
<rect x="190.50" y="706.80" width="16.70" height="20.00" fill="#f5cccc"/>
<rect x="206.50" y="706.80" width="20.16" height="20.00" fill="#f7d4d5"/>
<rect x="225.96" y="706.80" width="19.89" height="20.00" fill="#fbe9e9"/>
<rect x="245.15" y="706.80" width="19.95" height="20.00" fill="#fdfefe"/>
<rect x="264.40" y="706.80" width="20.40" height="20.00" fill="#ddebf4"/>
<rect x="284.10" y="706.80" width="17.75" height="20.00" fill="#bcd6e8"/>
<rect x="301.15" y="706.80" width="20.10" height="20.00" fill="#9dc4de"/>
<rect x="320.55" y="706.80" width="20.11" height="20.00" fill="#84b4d6"/>
<rect x="339.96" y="706.80" width="20.04" height="20.00" fill="#72a9d0"/>
<rect x="359.30" y="706.80" width="20.30" height="20.00" fill="#6ba5ce"/>
<rect x="378.90" y="706.80" width="19.90" height="20.00" fill="#72a9d0"/>
<rect x="398.10" y="706.80" width="17.80" height="20.00" fill="#84b4d6"/>
<rect x="415.20" y="706.80" width="20.35" height="20.00" fill="#9dc4de"/>
<rect x="434.85" y="706.80" width="19.95" height="20.00" fill="#bcd6e8"/>
<rect x="454.10" y="706.80" width="20.00" height="20.00" fill="#ddebf4"/>
<rect x="473.40" y="706.80" width="20.10" height="20.00" fill="#fdfefe"/>
<rect x="492.80" y="706.80" width="19.90" height="20.00" fill="#fbe9e9"/>
<rect x="512.00" y="706.80" width="20.40" height="20.00" fill="#f7d4d5"/>
<rect x="531.70" y="706.80" width="18.50" height="20.00" fill="#f5cccc"/>
<rect x="190.50" y="726.10" width="16.70" height="20.10" fill="#f6cdcd"/>
<rect x="206.50" y="726.10" width="20.16" height="20.10" fill="#f8dada"/>
<rect x="225.96" y="726.10" width="19.89" height="20.10" fill="#fcf1f1"/>
<rect x="245.15" y="726.10" width="19.95" height="20.10" fill="#f0f6fa"/>
<rect x="264.40" y="726.10" width="20.40" height="20.10" fill="#cbe0ee"/>
<rect x="284.10" y="726.10" width="17.75" height="20.10" fill="#a7c9e1"/>
<rect x="301.15" y="726.10" width="20.10" height="20.10" fill="#84b4d6"/>
<rect x="320.55" y="726.10" width="20.11" height="20.10" fill="#65a1cb"/>
<rect x="339.96" y="726.10" width="20.04" height="20.10" fill="#4e94c4"/>
<rect x="359.30" y="726.10" width="20.30" height="20.10" fill="#458ec1"/>
<rect x="378.90" y="726.10" width="19.90" height="20.10" fill="#4e94c4"/>
<rect x="398.10" y="726.10" width="17.80" height="20.10" fill="#65a1cb"/>
<rect x="415.20" y="726.10" width="20.35" height="20.10" fill="#84b4d6"/>
<rect x="434.85" y="726.10" width="19.95" height="20.10" fill="#a7c9e1"/>
<rect x="454.10" y="726.10" width="20.00" height="20.10" fill="#cbe0ee"/>
<rect x="473.40" y="726.10" width="20.10" height="20.10" fill="#f0f6fa"/>
<rect x="492.80" y="726.10" width="19.90" height="20.10" fill="#fcf1f1"/>
<rect x="512.00" y="726.10" width="20.40" height="20.10" fill="#f8dada"/>
<rect x="531.70" y="726.10" width="18.50" height="20.10" fill="#f6cdcd"/>
<rect x="190.50" y="745.50" width="16.70" height="19.90" fill="#f6cece"/>
<rect x="206.50" y="745.50" width="20.16" height="19.90" fill="#f9ddde"/>
<rect x="225.96" y="745.50" width="19.89" height="19.90" fill="#fdf7f7"/>
<rect x="245.15" y="745.50" width="19.95" height="19.90" fill="#e7f0f7"/>
<rect x="264.40" y="745.50" width="20.40" height="19.90" fill="#c0d9ea"/>
<rect x="284.10" y="745.50" width="17.75" height="19.90" fill="#98c1dd"/>
<rect x="301.15" y="745.50" width="20.10" height="19.90" fill="#72a9d0"/>
<rect x="320.55" y="745.50" width="20.11" height="19.90" fill="#4e94c4"/>
<rect x="339.96" y="745.50" width="20.04" height="19.90" fill="#2d7fb9"/>
<rect x="359.30" y="745.50" width="20.30" height="19.90" fill="#1f77b4"/>
<rect x="378.90" y="745.50" width="19.90" height="19.90" fill="#2d7fb9"/>
<rect x="398.10" y="745.50" width="17.80" height="19.90" fill="#4e94c4"/>
<rect x="415.20" y="745.50" width="20.35" height="19.90" fill="#72a9d0"/>
<rect x="434.85" y="745.50" width="19.95" height="19.90" fill="#98c1dd"/>
<rect x="454.10" y="745.50" width="20.00" height="19.90" fill="#c0d9ea"/>
<rect x="473.40" y="745.50" width="20.10" height="19.90" fill="#e7f0f7"/>
<rect x="492.80" y="745.50" width="19.90" height="19.90" fill="#fdf7f7"/>
<rect x="512.00" y="745.50" width="20.40" height="19.90" fill="#f9ddde"/>
<rect x="531.70" y="745.50" width="18.50" height="19.90" fill="#f6cece"/>
<rect x="190.50" y="764.70" width="16.70" height="20.00" fill="#f6cecf"/>
<rect x="206.50" y="764.70" width="20.16" height="20.00" fill="#f9dfdf"/>
<rect x="225.96" y="764.70" width="19.89" height="20.00" fill="#fef9f9"/>
<rect x="245.15" y="764.70" width="19.95" height="20.00" fill="#e4eff6"/>
<rect x="264.40" y="764.70" width="20.40" height="20.00" fill="#bcd6e8"/>
<rect x="284.10" y="764.70" width="17.75" height="20.00" fill="#93bedb"/>
<rect x="301.15" y="764.70" width="20.10" height="20.00" fill="#6ba5ce"/>
<rect x="320.55" y="764.70" width="20.11" height="20.00" fill="#458ec1"/>
<rect x="339.96" y="764.70" width="20.04" height="20.00" fill="#1f77b4"/>
<rect x="359.30" y="764.70" width="20.30" height="20.00" fill="#ffffff"/>
<rect x="378.90" y="764.70" width="19.90" height="20.00" fill="#1f77b4"/>
<rect x="398.10" y="764.70" width="17.80" height="20.00" fill="#458ec1"/>
<rect x="415.20" y="764.70" width="20.35" height="20.00" fill="#6ba5ce"/>
<rect x="434.85" y="764.70" width="19.95" height="20.00" fill="#93bedb"/>
<rect x="454.10" y="764.70" width="20.00" height="20.00" fill="#bcd6e8"/>
<rect x="473.40" y="764.70" width="20.10" height="20.00" fill="#e4eff6"/>
<rect x="492.80" y="764.70" width="19.90" height="20.00" fill="#fef9f9"/>
<rect x="512.00" y="764.70" width="20.40" height="20.00" fill="#f9dfdf"/>
<rect x="531.70" y="764.70" width="18.50" height="20.00" fill="#f6cecf"/>
<rect x="190.50" y="784.00" width="16.70" height="17.80" fill="#f6cece"/>
<rect x="206.50" y="784.00" width="20.16" height="17.80" fill="#f9ddde"/>
<rect x="225.96" y="784.00" width="19.89" height="17.80" fill="#fdf7f7"/>
<rect x="245.15" y="784.00" width="19.95" height="17.80" fill="#e7f0f7"/>
<rect x="264.40" y="784.00" width="20.40" height="17.80" fill="#c0d9ea"/>
<rect x="284.10" y="784.00" width="17.75" height="17.80" fill="#98c1dd"/>
<rect x="301.15" y="784.00" width="20.10" height="17.80" fill="#72a9d0"/>
<rect x="320.55" y="784.00" width="20.11" height="17.80" fill="#4e94c4"/>
<rect x="339.96" y="784.00" width="20.04" height="17.80" fill="#2d7fb9"/>
<rect x="359.30" y="784.00" width="20.30" height="17.80" fill="#1f77b4"/>
<rect x="378.90" y="784.00" width="19.90" height="17.80" fill="#2d7fb9"/>
<rect x="398.10" y="784.00" width="17.80" height="17.80" fill="#4e94c4"/>
<rect x="415.20" y="784.00" width="20.35" height="17.80" fill="#72a9d0"/>
<rect x="434.85" y="784.00" width="19.95" height="17.80" fill="#98c1dd"/>
<rect x="454.10" y="784.00" width="20.00" height="17.80" fill="#c0d9ea"/>
<rect x="473.40" y="784.00" width="20.10" height="17.80" fill="#e7f0f7"/>
<rect x="492.80" y="784.00" width="19.90" height="17.80" fill="#fdf7f7"/>
<rect x="512.00" y="784.00" width="20.40" height="17.80" fill="#f9ddde"/>
<rect x="531.70" y="784.00" width="18.50" height="17.80" fill="#f6cece"/>
<rect x="190.50" y="801.10" width="16.70" height="20.30" fill="#f6cdcd"/>
<rect x="206.50" y="801.10" width="20.16" height="20.30" fill="#f8dada"/>
<rect x="225.96" y="801.10" width="19.89" height="20.30" fill="#fcf1f1"/>
<rect x="245.15" y="801.10" width="19.95" height="20.30" fill="#f0f6fa"/>
<rect x="264.40" y="801.10" width="20.40" height="20.30" fill="#cbe0ee"/>
<rect x="284.10" y="801.10" width="17.75" height="20.30" fill="#a7c9e1"/>
<rect x="301.15" y="801.10" width="20.10" height="20.30" fill="#84b4d6"/>
<rect x="320.55" y="801.10" width="20.11" height="20.30" fill="#65a1cb"/>
<rect x="339.96" y="801.10" width="20.04" height="20.30" fill="#4e94c4"/>
<rect x="359.30" y="801.10" width="20.30" height="20.30" fill="#458ec1"/>
<rect x="378.90" y="801.10" width="19.90" height="20.30" fill="#4e94c4"/>
<rect x="398.10" y="801.10" width="17.80" height="20.30" fill="#65a1cb"/>
<rect x="415.20" y="801.10" width="20.35" height="20.30" fill="#84b4d6"/>
<rect x="434.85" y="801.10" width="19.95" height="20.30" fill="#a7c9e1"/>
<rect x="454.10" y="801.10" width="20.00" height="20.30" fill="#cbe0ee"/>
<rect x="473.40" y="801.10" width="20.10" height="20.30" fill="#f0f6fa"/>
<rect x="492.80" y="801.10" width="19.90" height="20.30" fill="#fcf1f1"/>
<rect x="512.00" y="801.10" width="20.40" height="20.30" fill="#f8dada"/>
<rect x="531.70" y="801.10" width="18.50" height="20.30" fill="#f6cdcd"/>
<rect x="190.50" y="820.70" width="16.70" height="19.75" fill="#f5cccc"/>
<rect x="206.50" y="820.70" width="20.16" height="19.75" fill="#f7d4d5"/>
<rect x="225.96" y="820.70" width="19.89" height="19.75" fill="#fbe9e9"/>
<rect x="245.15" y="820.70" width="19.95" height="19.75" fill="#fdfefe"/>
<rect x="264.40" y="820.70" width="20.40" height="19.75" fill="#ddebf4"/>
<rect x="284.10" y="820.70" width="17.75" height="19.75" fill="#bcd6e8"/>
<rect x="301.15" y="820.70" width="20.10" height="19.75" fill="#9dc4de"/>
<rect x="320.55" y="820.70" width="20.11" height="19.75" fill="#84b4d6"/>
<rect x="339.96" y="820.70" width="20.04" height="19.75" fill="#72a9d0"/>
<rect x="359.30" y="820.70" width="20.30" height="19.75" fill="#6ba5ce"/>
<rect x="378.90" y="820.70" width="19.90" height="19.75" fill="#72a9d0"/>
<rect x="398.10" y="820.70" width="17.80" height="19.75" fill="#84b4d6"/>
<rect x="415.20" y="820.70" width="20.35" height="19.75" fill="#9dc4de"/>
<rect x="434.85" y="820.70" width="19.95" height="19.75" fill="#bcd6e8"/>
<rect x="454.10" y="820.70" width="20.00" height="19.75" fill="#ddebf4"/>
<rect x="473.40" y="820.70" width="20.10" height="19.75" fill="#fdfefe"/>
<rect x="492.80" y="820.70" width="19.90" height="19.75" fill="#fbe9e9"/>
<rect x="512.00" y="820.70" width="20.40" height="19.75" fill="#f7d4d5"/>
<rect x="531.70" y="820.70" width="18.50" height="19.75" fill="#f5cccc"/>
<rect x="190.50" y="839.75" width="16.70" height="20.25" fill="#f5cbcb"/>
<rect x="206.50" y="839.75" width="20.16" height="20.25" fill="#f6cfcf"/>
<rect x="225.96" y="839.75" width="19.89" height="20.25" fill="#f9ddde"/>
<rect x="245.15" y="839.75" width="19.95" height="20.25" fill="#fdf3f3"/>
<rect x="264.40" y="839.75" width="20.40" height="20.25" fill="#f3f7fb"/>
<rect x="284.10" y="839.75" width="17.75" height="20.25" fill="#d6e6f1"/>
<rect x="301.15" y="839.75" width="20.10" height="20.25" fill="#bcd6e8"/>
<rect x="320.55" y="839.75" width="20.11" height="20.25" fill="#a7c9e1"/>
<rect x="339.96" y="839.75" width="20.04" height="20.25" fill="#98c1dd"/>
<rect x="359.30" y="839.75" width="20.30" height="20.25" fill="#93bedb"/>
<rect x="378.90" y="839.75" width="19.90" height="20.25" fill="#98c1dd"/>
<rect x="398.10" y="839.75" width="17.80" height="20.25" fill="#a7c9e1"/>
<rect x="415.20" y="839.75" width="20.35" height="20.25" fill="#bcd6e8"/>
<rect x="434.85" y="839.75" width="19.95" height="20.25" fill="#d6e6f1"/>
<rect x="454.10" y="839.75" width="20.00" height="20.25" fill="#f3f7fb"/>
<rect x="473.40" y="839.75" width="20.10" height="20.25" fill="#fdf3f3"/>
<rect x="492.80" y="839.75" width="19.90" height="20.25" fill="#f9ddde"/>
<rect x="512.00" y="839.75" width="20.40" height="20.25" fill="#f6cfcf"/>
<rect x="531.70" y="839.75" width="18.50" height="20.25" fill="#f5cbcb"/>
<rect x="190.50" y="859.30" width="16.70" height="20.15" fill="#f5caca"/>
<rect x="206.50" y="859.30" width="20.16" height="20.15" fill="#f5cccc"/>
<rect x="225.96" y="859.30" width="19.89" height="20.15" fill="#f7d4d4"/>
<rect x="245.15" y="859.30" width="19.95" height="20.15" fill="#fae4e4"/>
<rect x="264.40" y="859.30" width="20.40" height="20.15" fill="#fdf7f7"/>
<rect x="284.10" y="859.30" width="17.75" height="20.15" fill="#f3f7fb"/>
<rect x="301.15" y="859.30" width="20.10" height="20.15" fill="#ddebf4"/>
<rect x="320.55" y="859.30" width="20.11" height="20.15" fill="#cbe0ee"/>
<rect x="339.96" y="859.30" width="20.04" height="20.15" fill="#c0d9ea"/>
<rect x="359.30" y="859.30" width="20.30" height="20.15" fill="#bcd6e8"/>
<rect x="378.90" y="859.30" width="19.90" height="20.15" fill="#c0d9ea"/>
<rect x="398.10" y="859.30" width="17.80" height="20.15" fill="#cbe0ee"/>
<rect x="415.20" y="859.30" width="20.35" height="20.15" fill="#ddebf4"/>
<rect x="434.85" y="859.30" width="19.95" height="20.15" fill="#f3f7fb"/>
<rect x="454.10" y="859.30" width="20.00" height="20.15" fill="#fdf7f7"/>
<rect x="473.40" y="859.30" width="20.10" height="20.15" fill="#fae4e4"/>
<rect x="492.80" y="859.30" width="19.90" height="20.15" fill="#f7d4d4"/>
<rect x="512.00" y="859.30" width="20.40" height="20.15" fill="#f5cccc"/>
<rect x="531.70" y="859.30" width="18.50" height="20.15" fill="#f5caca"/>
<rect x="190.50" y="878.75" width="16.70" height="19.95" fill="#f5c9c9"/>
<rect x="206.50" y="878.75" width="20.16" height="19.95" fill="#f5caca"/>
<rect x="225.96" y="878.75" width="19.89" height="19.95" fill="#f6cdcd"/>
<rect x="245.15" y="878.75" width="19.95" height="19.95" fill="#f7d5d5"/>
<rect x="264.40" y="878.75" width="20.40" height="19.95" fill="#fae4e4"/>
<rect x="284.10" y="878.75" width="17.75" height="19.95" fill="#fdf3f3"/>
<rect x="301.15" y="878.75" width="20.10" height="19.95" fill="#fdfefe"/>
<rect x="320.55" y="878.75" width="20.11" height="19.95" fill="#f0f6fa"/>
<rect x="339.96" y="878.75" width="20.04" height="19.95" fill="#e7f0f7"/>
<rect x="359.30" y="878.75" width="20.30" height="19.95" fill="#e4eff6"/>
<rect x="378.90" y="878.75" width="19.90" height="19.95" fill="#e7f0f7"/>
<rect x="398.10" y="878.75" width="17.80" height="19.95" fill="#f0f6fa"/>
<rect x="415.20" y="878.75" width="20.35" height="19.95" fill="#fdfefe"/>
<rect x="434.85" y="878.75" width="19.95" height="19.95" fill="#fdf3f3"/>
<rect x="454.10" y="878.75" width="20.00" height="19.95" fill="#fae4e4"/>
<rect x="473.40" y="878.75" width="20.10" height="19.95" fill="#f7d5d5"/>
<rect x="492.80" y="878.75" width="19.90" height="19.95" fill="#f6cdcd"/>
<rect x="512.00" y="878.75" width="20.40" height="19.95" fill="#f5caca"/>
<rect x="531.70" y="878.75" width="18.50" height="19.95" fill="#f5c9c9"/>
<rect x="190.50" y="898.00" width="16.70" height="17.90" fill="#f5c9c9"/>
<rect x="206.50" y="898.00" width="20.16" height="17.90" fill="#f5c9ca"/>
<rect x="225.96" y="898.00" width="19.89" height="17.90" fill="#f5cacb"/>
<rect x="245.15" y="898.00" width="19.95" height="17.90" fill="#f6cdcd"/>
<rect x="264.40" y="898.00" width="20.40" height="17.90" fill="#f7d4d4"/>
<rect x="284.10" y="898.00" width="17.75" height="17.90" fill="#f9ddde"/>
<rect x="301.15" y="898.00" width="20.10" height="17.90" fill="#fbe9e9"/>
<rect x="320.55" y="898.00" width="20.11" height="17.90" fill="#fcf1f1"/>
<rect x="339.96" y="898.00" width="20.04" height="17.90" fill="#fdf7f7"/>
<rect x="359.30" y="898.00" width="20.30" height="17.90" fill="#fef9f9"/>
<rect x="378.90" y="898.00" width="19.90" height="17.90" fill="#fdf7f7"/>
<rect x="398.10" y="898.00" width="17.80" height="17.90" fill="#fcf1f1"/>
<rect x="415.20" y="898.00" width="20.35" height="17.90" fill="#fbe9e9"/>
<rect x="434.85" y="898.00" width="19.95" height="17.90" fill="#f9ddde"/>
<rect x="454.10" y="898.00" width="20.00" height="17.90" fill="#f7d4d4"/>
<rect x="473.40" y="898.00" width="20.10" height="17.90" fill="#f6cdcd"/>
<rect x="492.80" y="898.00" width="19.90" height="17.90" fill="#f5cacb"/>
<rect x="512.00" y="898.00" width="20.40" height="17.90" fill="#f5c9ca"/>
<rect x="531.70" y="898.00" width="18.50" height="17.90" fill="#f5c9c9"/>
<rect x="190.50" y="915.20" width="16.70" height="20.00" fill="#f5c9c9"/>
<rect x="206.50" y="915.20" width="20.16" height="20.00" fill="#f5c9c9"/>
<rect x="225.96" y="915.20" width="19.89" height="20.00" fill="#f5c9ca"/>
<rect x="245.15" y="915.20" width="19.95" height="20.00" fill="#f5caca"/>
<rect x="264.40" y="915.20" width="20.40" height="20.00" fill="#f5cccc"/>
<rect x="284.10" y="915.20" width="17.75" height="20.00" fill="#f6cfcf"/>
<rect x="301.15" y="915.20" width="20.10" height="20.00" fill="#f7d4d5"/>
<rect x="320.55" y="915.20" width="20.11" height="20.00" fill="#f8dada"/>
<rect x="339.96" y="915.20" width="20.04" height="20.00" fill="#f9ddde"/>
<rect x="359.30" y="915.20" width="20.30" height="20.00" fill="#f9dfdf"/>
<rect x="378.90" y="915.20" width="19.90" height="20.00" fill="#f9ddde"/>
<rect x="398.10" y="915.20" width="17.80" height="20.00" fill="#f8dada"/>
<rect x="415.20" y="915.20" width="20.35" height="20.00" fill="#f7d4d5"/>
<rect x="434.85" y="915.20" width="19.95" height="20.00" fill="#f6cfcf"/>
<rect x="454.10" y="915.20" width="20.00" height="20.00" fill="#f5cccc"/>
<rect x="473.40" y="915.20" width="20.10" height="20.00" fill="#f5caca"/>
<rect x="492.80" y="915.20" width="19.90" height="20.00" fill="#f5c9ca"/>
<rect x="512.00" y="915.20" width="20.40" height="20.00" fill="#f5c9c9"/>
<rect x="531.70" y="915.20" width="18.50" height="20.00" fill="#f5c9c9"/>
<rect x="190.50" y="934.50" width="16.70" height="19.10" fill="#f5c9c9"/>
<rect x="206.50" y="934.50" width="20.16" height="19.10" fill="#f5c9c9"/>
<rect x="225.96" y="934.50" width="19.89" height="19.10" fill="#f5c9c9"/>
<rect x="245.15" y="934.50" width="19.95" height="19.10" fill="#f5c9c9"/>
<rect x="264.40" y="934.50" width="20.40" height="19.10" fill="#f5caca"/>
<rect x="284.10" y="934.50" width="17.75" height="19.10" fill="#f5cbcb"/>
<rect x="301.15" y="934.50" width="20.10" height="19.10" fill="#f5cccc"/>
<rect x="320.55" y="934.50" width="20.11" height="19.10" fill="#f6cdcd"/>
<rect x="339.96" y="934.50" width="20.04" height="19.10" fill="#f6cece"/>
<rect x="359.30" y="934.50" width="20.30" height="19.10" fill="#f6cecf"/>
<rect x="378.90" y="934.50" width="19.90" height="19.10" fill="#f6cece"/>
<rect x="398.10" y="934.50" width="17.80" height="19.10" fill="#f6cdcd"/>
<rect x="415.20" y="934.50" width="20.35" height="19.10" fill="#f5cccc"/>
<rect x="434.85" y="934.50" width="19.95" height="19.10" fill="#f5cbcb"/>
<rect x="454.10" y="934.50" width="20.00" height="19.10" fill="#f5caca"/>
<rect x="473.40" y="934.50" width="20.10" height="19.10" fill="#f5c9c9"/>
<rect x="492.80" y="934.50" width="19.90" height="19.10" fill="#f5c9c9"/>
<rect x="512.00" y="934.50" width="20.40" height="19.10" fill="#f5c9c9"/>
<rect x="531.70" y="934.50" width="18.50" height="19.10" fill="#f5c9c9"/>
<rect x="190.50" y="594.30" width="359.70" height="359.30" fill="none" stroke="#000" stroke-width="2.6"/>
<rect x="561.10" y="594.30" width="28.75" height="359.30" fill="url(#cm)" stroke="#000" stroke-width="2.6"/>
<path d="M275.69 953.60v9.7M370.35 953.60v9.7M465.01 953.60v9.7M190.50 678.99h-9.5M190.50 773.65h-9.5M190.50 868.31h-9.5M589.85 656.05h9.6M589.85 773.95h9.6M589.85 891.85h9.6" stroke="#000" stroke-width="2.4" stroke-linecap="round" fill="none"/>
<text transform="translate(610.25 671.75) scale(1.000 1.036)">0.1</text>
<text transform="translate(610.25 789.65) scale(1.000 1.036)">0.0</text>
<text transform="translate(610.25 907.55) scale(1.000 1.036)">–0.1</text>
<text transform="translate(170.20 695.39) scale(1.000 1.036)" text-anchor="end">5</text>
<text transform="translate(170.20 790.05) scale(1.000 1.036)" text-anchor="end">0</text>
<text transform="translate(170.20 884.71) scale(1.000 1.036)" text-anchor="end">–5</text>
<text transform="translate(102.70 784.15) rotate(-90) scale(1.000 1.036)" class="i">y</text>
<text transform="translate(275.69 1005.90) scale(1.000 1.036)" text-anchor="middle">–5</text>
<text transform="translate(370.35 1005.90) scale(1.000 1.036)" text-anchor="middle">0</text>
<text transform="translate(465.01 1005.90) scale(1.000 1.036)" text-anchor="middle">5</text>
<text transform="translate(360.75 1057.70) scale(1.000 1.036)" class="i">x</text>
</g>
<g id="panel-d">
<rect x="769.70" y="594.30" width="18.50" height="18.90" fill="#fbe8e8"/>
<rect x="787.50" y="594.30" width="20.00" height="18.90" fill="#fbe8e8"/>
<rect x="806.80" y="594.30" width="17.70" height="18.90" fill="#fbe8e8"/>
<rect x="823.80" y="594.30" width="20.00" height="18.90" fill="#fbe8e8"/>
<rect x="843.10" y="594.30" width="20.40" height="18.90" fill="#fbe8e8"/>
<rect x="862.80" y="594.30" width="20.00" height="18.90" fill="#fbe8e8"/>
<rect x="882.10" y="594.30" width="20.10" height="18.90" fill="#fbe8e8"/>
<rect x="901.50" y="594.30" width="20.10" height="18.90" fill="#fbe8e8"/>
<rect x="920.90" y="594.30" width="17.90" height="18.90" fill="#fbe8e8"/>
<rect x="938.10" y="594.30" width="20.00" height="18.90" fill="#fbe8e8"/>
<rect x="957.40" y="594.30" width="20.10" height="18.90" fill="#fbe8e8"/>
<rect x="976.80" y="594.30" width="19.85" height="18.90" fill="#fbe8e8"/>
<rect x="995.95" y="594.30" width="20.15" height="18.90" fill="#fbe8e8"/>
<rect x="1015.40" y="594.30" width="20.10" height="18.90" fill="#fbe8e8"/>
<rect x="1034.80" y="594.30" width="20.00" height="18.90" fill="#fbe8e8"/>
<rect x="1054.10" y="594.30" width="18.30" height="18.90" fill="#fbe8e8"/>
<rect x="1071.70" y="594.30" width="20.00" height="18.90" fill="#fbe8e8"/>
<rect x="1091.00" y="594.30" width="19.70" height="18.90" fill="#fbe8e8"/>
<rect x="1110.00" y="594.30" width="19.50" height="18.90" fill="#fbe8e8"/>
<rect x="769.70" y="612.50" width="18.50" height="19.90" fill="#fbe8e8"/>
<rect x="787.50" y="612.50" width="20.00" height="19.90" fill="#fbe8e8"/>
<rect x="806.80" y="612.50" width="17.70" height="19.90" fill="#fbe8e8"/>
<rect x="823.80" y="612.50" width="20.00" height="19.90" fill="#fbe8e8"/>
<rect x="843.10" y="612.50" width="20.40" height="19.90" fill="#fbe8e8"/>
<rect x="862.80" y="612.50" width="20.00" height="19.90" fill="#fbe8e8"/>
<rect x="882.10" y="612.50" width="20.10" height="19.90" fill="#fbe8e8"/>
<rect x="901.50" y="612.50" width="20.10" height="19.90" fill="#fbe8e8"/>
<rect x="920.90" y="612.50" width="17.90" height="19.90" fill="#fbe8e8"/>
<rect x="938.10" y="612.50" width="20.00" height="19.90" fill="#fbe8e8"/>
<rect x="957.40" y="612.50" width="20.10" height="19.90" fill="#fbe8e8"/>
<rect x="976.80" y="612.50" width="19.85" height="19.90" fill="#fbe8e8"/>
<rect x="995.95" y="612.50" width="20.15" height="19.90" fill="#fbe8e8"/>
<rect x="1015.40" y="612.50" width="20.10" height="19.90" fill="#fbe8e8"/>
<rect x="1034.80" y="612.50" width="20.00" height="19.90" fill="#fbe8e8"/>
<rect x="1054.10" y="612.50" width="18.30" height="19.90" fill="#fbe8e8"/>
<rect x="1071.70" y="612.50" width="20.00" height="19.90" fill="#fbe8e8"/>
<rect x="1091.00" y="612.50" width="19.70" height="19.90" fill="#fbe8e8"/>
<rect x="1110.00" y="612.50" width="19.50" height="19.90" fill="#fbe8e8"/>
<rect x="769.70" y="631.70" width="18.50" height="20.10" fill="#fbe8e8"/>
<rect x="787.50" y="631.70" width="20.00" height="20.10" fill="#fbe8e8"/>
<rect x="806.80" y="631.70" width="17.70" height="20.10" fill="#fbe8e8"/>
<rect x="823.80" y="631.70" width="20.00" height="20.10" fill="#fbe8e8"/>
<rect x="843.10" y="631.70" width="20.40" height="20.10" fill="#fbe8e8"/>
<rect x="862.80" y="631.70" width="20.00" height="20.10" fill="#fbe8e8"/>
<rect x="882.10" y="631.70" width="20.10" height="20.10" fill="#fbe8e8"/>
<rect x="901.50" y="631.70" width="20.10" height="20.10" fill="#fbe8e8"/>
<rect x="920.90" y="631.70" width="17.90" height="20.10" fill="#fbe8e8"/>
<rect x="938.10" y="631.70" width="20.00" height="20.10" fill="#fbe8e8"/>
<rect x="957.40" y="631.70" width="20.10" height="20.10" fill="#fbe8e8"/>
<rect x="976.80" y="631.70" width="19.85" height="20.10" fill="#fbe8e8"/>
<rect x="995.95" y="631.70" width="20.15" height="20.10" fill="#fbe8e8"/>
<rect x="1015.40" y="631.70" width="20.10" height="20.10" fill="#fbe8e8"/>
<rect x="1034.80" y="631.70" width="20.00" height="20.10" fill="#fbe8e8"/>
<rect x="1054.10" y="631.70" width="18.30" height="20.10" fill="#fbe8e8"/>
<rect x="1071.70" y="631.70" width="20.00" height="20.10" fill="#fbe8e8"/>
<rect x="1091.00" y="631.70" width="19.70" height="20.10" fill="#fbe8e8"/>
<rect x="1110.00" y="631.70" width="19.50" height="20.10" fill="#fbe8e8"/>
<rect x="769.70" y="651.10" width="18.50" height="17.80" fill="#fbe8e8"/>
<rect x="787.50" y="651.10" width="20.00" height="17.80" fill="#fbe8e8"/>
<rect x="806.80" y="651.10" width="17.70" height="17.80" fill="#fbe8e8"/>
<rect x="823.80" y="651.10" width="20.00" height="17.80" fill="#fbe8e8"/>
<rect x="843.10" y="651.10" width="20.40" height="17.80" fill="#fbe8e8"/>
<rect x="862.80" y="651.10" width="20.00" height="17.80" fill="#fbe8e8"/>
<rect x="882.10" y="651.10" width="20.10" height="17.80" fill="#fbe9e9"/>
<rect x="901.50" y="651.10" width="20.10" height="17.80" fill="#fbeaea"/>
<rect x="920.90" y="651.10" width="17.90" height="17.80" fill="#fbebeb"/>
<rect x="938.10" y="651.10" width="20.00" height="17.80" fill="#fbebeb"/>
<rect x="957.40" y="651.10" width="20.10" height="17.80" fill="#fbebeb"/>
<rect x="976.80" y="651.10" width="19.85" height="17.80" fill="#fbeaea"/>
<rect x="995.95" y="651.10" width="20.15" height="17.80" fill="#fbe9e9"/>
<rect x="1015.40" y="651.10" width="20.10" height="17.80" fill="#fbe8e8"/>
<rect x="1034.80" y="651.10" width="20.00" height="17.80" fill="#fbe8e8"/>
<rect x="1054.10" y="651.10" width="18.30" height="17.80" fill="#fbe8e8"/>
<rect x="1071.70" y="651.10" width="20.00" height="17.80" fill="#fbe8e8"/>
<rect x="1091.00" y="651.10" width="19.70" height="17.80" fill="#fbe8e8"/>
<rect x="1110.00" y="651.10" width="19.50" height="17.80" fill="#fbe8e8"/>
<rect x="769.70" y="668.20" width="18.50" height="20.10" fill="#fbe8e8"/>
<rect x="787.50" y="668.20" width="20.00" height="20.10" fill="#fbe8e8"/>
<rect x="806.80" y="668.20" width="17.70" height="20.10" fill="#fbe8e8"/>
<rect x="823.80" y="668.20" width="20.00" height="20.10" fill="#fbe8e8"/>
<rect x="843.10" y="668.20" width="20.40" height="20.10" fill="#fbe8e8"/>
<rect x="862.80" y="668.20" width="20.00" height="20.10" fill="#fbe9e9"/>
<rect x="882.10" y="668.20" width="20.10" height="20.10" fill="#fbecec"/>
<rect x="901.50" y="668.20" width="20.10" height="20.10" fill="#fcf0f0"/>
<rect x="920.90" y="668.20" width="17.90" height="20.10" fill="#fdf7f7"/>
<rect x="938.10" y="668.20" width="20.00" height="20.10" fill="#fefbfb"/>
<rect x="957.40" y="668.20" width="20.10" height="20.10" fill="#fdf7f7"/>
<rect x="976.80" y="668.20" width="19.85" height="20.10" fill="#fcf0f0"/>
<rect x="995.95" y="668.20" width="20.15" height="20.10" fill="#fbecec"/>
<rect x="1015.40" y="668.20" width="20.10" height="20.10" fill="#fbe9e9"/>
<rect x="1034.80" y="668.20" width="20.00" height="20.10" fill="#fbe8e8"/>
<rect x="1054.10" y="668.20" width="18.30" height="20.10" fill="#fbe8e8"/>
<rect x="1071.70" y="668.20" width="20.00" height="20.10" fill="#fbe8e8"/>
<rect x="1091.00" y="668.20" width="19.70" height="20.10" fill="#fbe8e8"/>
<rect x="1110.00" y="668.20" width="19.50" height="20.10" fill="#fbe8e8"/>
<rect x="769.70" y="687.60" width="18.50" height="19.90" fill="#fbe8e8"/>
<rect x="787.50" y="687.60" width="20.00" height="19.90" fill="#fbe8e8"/>
<rect x="806.80" y="687.60" width="17.70" height="19.90" fill="#fbe8e8"/>
<rect x="823.80" y="687.60" width="20.00" height="19.90" fill="#fbe8e8"/>
<rect x="843.10" y="687.60" width="20.40" height="19.90" fill="#fbe9e9"/>
<rect x="862.80" y="687.60" width="20.00" height="19.90" fill="#fceeee"/>
<rect x="882.10" y="687.60" width="20.10" height="19.90" fill="#fefbfb"/>
<rect x="901.50" y="687.60" width="20.10" height="19.90" fill="#f6fafc"/>
<rect x="920.90" y="687.60" width="17.90" height="19.90" fill="#ebf3f8"/>
<rect x="938.10" y="687.60" width="20.00" height="19.90" fill="#e5eff6"/>
<rect x="957.40" y="687.60" width="20.10" height="19.90" fill="#ebf3f8"/>
<rect x="976.80" y="687.60" width="19.85" height="19.90" fill="#f6fafc"/>
<rect x="995.95" y="687.60" width="20.15" height="19.90" fill="#fefbfb"/>
<rect x="1015.40" y="687.60" width="20.10" height="19.90" fill="#fceeee"/>
<rect x="1034.80" y="687.60" width="20.00" height="19.90" fill="#fbe9e9"/>
<rect x="1054.10" y="687.60" width="18.30" height="19.90" fill="#fbe8e8"/>
<rect x="1071.70" y="687.60" width="20.00" height="19.90" fill="#fbe8e8"/>
<rect x="1091.00" y="687.60" width="19.70" height="19.90" fill="#fbe8e8"/>
<rect x="1110.00" y="687.60" width="19.50" height="19.90" fill="#fbe8e8"/>
<rect x="769.70" y="706.80" width="18.50" height="20.00" fill="#fbe8e8"/>
<rect x="787.50" y="706.80" width="20.00" height="20.00" fill="#fbe8e8"/>
<rect x="806.80" y="706.80" width="17.70" height="20.00" fill="#fbe8e8"/>
<rect x="823.80" y="706.80" width="20.00" height="20.00" fill="#fbe9e9"/>
<rect x="843.10" y="706.80" width="20.40" height="20.00" fill="#fbecec"/>
<rect x="862.80" y="706.80" width="20.00" height="20.00" fill="#fefbfb"/>
<rect x="882.10" y="706.80" width="20.10" height="20.00" fill="#eff6fa"/>
<rect x="901.50" y="706.80" width="20.10" height="20.00" fill="#d3e4f0"/>
<rect x="920.90" y="706.80" width="17.90" height="20.00" fill="#b9d4e7"/>
<rect x="938.10" y="706.80" width="20.00" height="20.00" fill="#aecee4"/>
<rect x="957.40" y="706.80" width="20.10" height="20.00" fill="#b9d4e7"/>
<rect x="976.80" y="706.80" width="19.85" height="20.00" fill="#d3e4f0"/>
<rect x="995.95" y="706.80" width="20.15" height="20.00" fill="#eff6fa"/>
<rect x="1015.40" y="706.80" width="20.10" height="20.00" fill="#fefbfb"/>
<rect x="1034.80" y="706.80" width="20.00" height="20.00" fill="#fbecec"/>
<rect x="1054.10" y="706.80" width="18.30" height="20.00" fill="#fbe9e9"/>
<rect x="1071.70" y="706.80" width="20.00" height="20.00" fill="#fbe8e8"/>
<rect x="1091.00" y="706.80" width="19.70" height="20.00" fill="#fbe8e8"/>
<rect x="1110.00" y="706.80" width="19.50" height="20.00" fill="#fbe8e8"/>
<rect x="769.70" y="726.10" width="18.50" height="20.10" fill="#fbe8e8"/>
<rect x="787.50" y="726.10" width="20.00" height="20.10" fill="#fbe8e8"/>
<rect x="806.80" y="726.10" width="17.70" height="20.10" fill="#fbe8e8"/>
<rect x="823.80" y="726.10" width="20.00" height="20.10" fill="#fbeaea"/>
<rect x="843.10" y="726.10" width="20.40" height="20.10" fill="#fcf0f0"/>
<rect x="862.80" y="726.10" width="20.00" height="20.10" fill="#f6fafc"/>
<rect x="882.10" y="726.10" width="20.10" height="20.10" fill="#d3e4f0"/>
<rect x="901.50" y="726.10" width="20.10" height="20.10" fill="#a2c7e0"/>
<rect x="920.90" y="726.10" width="17.90" height="20.10" fill="#76acd1"/>
<rect x="938.10" y="726.10" width="20.00" height="20.10" fill="#64a1cb"/>
<rect x="957.40" y="726.10" width="20.10" height="20.10" fill="#76acd1"/>
<rect x="976.80" y="726.10" width="19.85" height="20.10" fill="#a2c7e0"/>
<rect x="995.95" y="726.10" width="20.15" height="20.10" fill="#d3e4f0"/>
<rect x="1015.40" y="726.10" width="20.10" height="20.10" fill="#f6fafc"/>
<rect x="1034.80" y="726.10" width="20.00" height="20.10" fill="#fcf0f0"/>
<rect x="1054.10" y="726.10" width="18.30" height="20.10" fill="#fbeaea"/>
<rect x="1071.70" y="726.10" width="20.00" height="20.10" fill="#fbe8e8"/>
<rect x="1091.00" y="726.10" width="19.70" height="20.10" fill="#fbe8e8"/>
<rect x="1110.00" y="726.10" width="19.50" height="20.10" fill="#fbe8e8"/>
<rect x="769.70" y="745.50" width="18.50" height="19.90" fill="#fbe8e8"/>
<rect x="787.50" y="745.50" width="20.00" height="19.90" fill="#fbe8e8"/>
<rect x="806.80" y="745.50" width="17.70" height="19.90" fill="#fbe8e8"/>
<rect x="823.80" y="745.50" width="20.00" height="19.90" fill="#fbebeb"/>
<rect x="843.10" y="745.50" width="20.40" height="19.90" fill="#fdf7f7"/>
<rect x="862.80" y="745.50" width="20.00" height="19.90" fill="#ebf3f8"/>
<rect x="882.10" y="745.50" width="20.10" height="19.90" fill="#b9d4e7"/>
<rect x="901.50" y="745.50" width="20.10" height="19.90" fill="#76acd1"/>
<rect x="920.90" y="745.50" width="17.90" height="19.90" fill="#3886bd"/>
<rect x="938.10" y="745.50" width="20.00" height="19.90" fill="#1f77b4"/>
<rect x="957.40" y="745.50" width="20.10" height="19.90" fill="#3886bd"/>
<rect x="976.80" y="745.50" width="19.85" height="19.90" fill="#76acd1"/>
<rect x="995.95" y="745.50" width="20.15" height="19.90" fill="#b9d4e7"/>
<rect x="1015.40" y="745.50" width="20.10" height="19.90" fill="#ebf3f8"/>
<rect x="1034.80" y="745.50" width="20.00" height="19.90" fill="#fdf7f7"/>
<rect x="1054.10" y="745.50" width="18.30" height="19.90" fill="#fbebeb"/>
<rect x="1071.70" y="745.50" width="20.00" height="19.90" fill="#fbe8e8"/>
<rect x="1091.00" y="745.50" width="19.70" height="19.90" fill="#fbe8e8"/>
<rect x="1110.00" y="745.50" width="19.50" height="19.90" fill="#fbe8e8"/>
<rect x="769.70" y="764.70" width="18.50" height="20.00" fill="#fbe8e8"/>
<rect x="787.50" y="764.70" width="20.00" height="20.00" fill="#fbe8e8"/>
<rect x="806.80" y="764.70" width="17.70" height="20.00" fill="#fbe8e8"/>
<rect x="823.80" y="764.70" width="20.00" height="20.00" fill="#fbebeb"/>
<rect x="843.10" y="764.70" width="20.40" height="20.00" fill="#fefbfb"/>
<rect x="862.80" y="764.70" width="20.00" height="20.00" fill="#e5eff6"/>
<rect x="882.10" y="764.70" width="20.10" height="20.00" fill="#aecee4"/>
<rect x="901.50" y="764.70" width="20.10" height="20.00" fill="#64a1cb"/>
<rect x="920.90" y="764.70" width="17.90" height="20.00" fill="#1f77b4"/>
<rect x="938.10" y="764.70" width="20.00" height="20.00" fill="#ffffff"/>
<rect x="957.40" y="764.70" width="20.10" height="20.00" fill="#1f77b4"/>
<rect x="976.80" y="764.70" width="19.85" height="20.00" fill="#64a1cb"/>
<rect x="995.95" y="764.70" width="20.15" height="20.00" fill="#aecee4"/>
<rect x="1015.40" y="764.70" width="20.10" height="20.00" fill="#e5eff6"/>
<rect x="1034.80" y="764.70" width="20.00" height="20.00" fill="#fefbfb"/>
<rect x="1054.10" y="764.70" width="18.30" height="20.00" fill="#fbebeb"/>
<rect x="1071.70" y="764.70" width="20.00" height="20.00" fill="#fbe8e8"/>
<rect x="1091.00" y="764.70" width="19.70" height="20.00" fill="#fbe8e8"/>
<rect x="1110.00" y="764.70" width="19.50" height="20.00" fill="#fbe8e8"/>
<rect x="769.70" y="784.00" width="18.50" height="17.80" fill="#fbe8e8"/>
<rect x="787.50" y="784.00" width="20.00" height="17.80" fill="#fbe8e8"/>
<rect x="806.80" y="784.00" width="17.70" height="17.80" fill="#fbe8e8"/>
<rect x="823.80" y="784.00" width="20.00" height="17.80" fill="#fbebeb"/>
<rect x="843.10" y="784.00" width="20.40" height="17.80" fill="#fdf7f7"/>
<rect x="862.80" y="784.00" width="20.00" height="17.80" fill="#ebf3f8"/>
<rect x="882.10" y="784.00" width="20.10" height="17.80" fill="#b9d4e7"/>
<rect x="901.50" y="784.00" width="20.10" height="17.80" fill="#76acd1"/>
<rect x="920.90" y="784.00" width="17.90" height="17.80" fill="#3886bd"/>
<rect x="938.10" y="784.00" width="20.00" height="17.80" fill="#1f77b4"/>
<rect x="957.40" y="784.00" width="20.10" height="17.80" fill="#3886bd"/>
<rect x="976.80" y="784.00" width="19.85" height="17.80" fill="#76acd1"/>
<rect x="995.95" y="784.00" width="20.15" height="17.80" fill="#b9d4e7"/>
<rect x="1015.40" y="784.00" width="20.10" height="17.80" fill="#ebf3f8"/>
<rect x="1034.80" y="784.00" width="20.00" height="17.80" fill="#fdf7f7"/>
<rect x="1054.10" y="784.00" width="18.30" height="17.80" fill="#fbebeb"/>
<rect x="1071.70" y="784.00" width="20.00" height="17.80" fill="#fbe8e8"/>
<rect x="1091.00" y="784.00" width="19.70" height="17.80" fill="#fbe8e8"/>
<rect x="1110.00" y="784.00" width="19.50" height="17.80" fill="#fbe8e8"/>
<rect x="769.70" y="801.10" width="18.50" height="20.30" fill="#fbe8e8"/>
<rect x="787.50" y="801.10" width="20.00" height="20.30" fill="#fbe8e8"/>
<rect x="806.80" y="801.10" width="17.70" height="20.30" fill="#fbe8e8"/>
<rect x="823.80" y="801.10" width="20.00" height="20.30" fill="#fbeaea"/>
<rect x="843.10" y="801.10" width="20.40" height="20.30" fill="#fcf0f0"/>
<rect x="862.80" y="801.10" width="20.00" height="20.30" fill="#f6fafc"/>
<rect x="882.10" y="801.10" width="20.10" height="20.30" fill="#d3e4f0"/>
<rect x="901.50" y="801.10" width="20.10" height="20.30" fill="#a2c7e0"/>
<rect x="920.90" y="801.10" width="17.90" height="20.30" fill="#76acd1"/>
<rect x="938.10" y="801.10" width="20.00" height="20.30" fill="#64a1cb"/>
<rect x="957.40" y="801.10" width="20.10" height="20.30" fill="#76acd1"/>
<rect x="976.80" y="801.10" width="19.85" height="20.30" fill="#a2c7e0"/>
<rect x="995.95" y="801.10" width="20.15" height="20.30" fill="#d3e4f0"/>
<rect x="1015.40" y="801.10" width="20.10" height="20.30" fill="#f6fafc"/>
<rect x="1034.80" y="801.10" width="20.00" height="20.30" fill="#fcf0f0"/>
<rect x="1054.10" y="801.10" width="18.30" height="20.30" fill="#fbeaea"/>
<rect x="1071.70" y="801.10" width="20.00" height="20.30" fill="#fbe8e8"/>
<rect x="1091.00" y="801.10" width="19.70" height="20.30" fill="#fbe8e8"/>
<rect x="1110.00" y="801.10" width="19.50" height="20.30" fill="#fbe8e8"/>
<rect x="769.70" y="820.70" width="18.50" height="19.75" fill="#fbe8e8"/>
<rect x="787.50" y="820.70" width="20.00" height="19.75" fill="#fbe8e8"/>
<rect x="806.80" y="820.70" width="17.70" height="19.75" fill="#fbe8e8"/>
<rect x="823.80" y="820.70" width="20.00" height="19.75" fill="#fbe9e9"/>
<rect x="843.10" y="820.70" width="20.40" height="19.75" fill="#fbecec"/>
<rect x="862.80" y="820.70" width="20.00" height="19.75" fill="#fefbfb"/>
<rect x="882.10" y="820.70" width="20.10" height="19.75" fill="#eff6fa"/>
<rect x="901.50" y="820.70" width="20.10" height="19.75" fill="#d3e4f0"/>
<rect x="920.90" y="820.70" width="17.90" height="19.75" fill="#b9d4e7"/>
<rect x="938.10" y="820.70" width="20.00" height="19.75" fill="#aecee4"/>
<rect x="957.40" y="820.70" width="20.10" height="19.75" fill="#b9d4e7"/>
<rect x="976.80" y="820.70" width="19.85" height="19.75" fill="#d3e4f0"/>
<rect x="995.95" y="820.70" width="20.15" height="19.75" fill="#eff6fa"/>
<rect x="1015.40" y="820.70" width="20.10" height="19.75" fill="#fefbfb"/>
<rect x="1034.80" y="820.70" width="20.00" height="19.75" fill="#fbecec"/>
<rect x="1054.10" y="820.70" width="18.30" height="19.75" fill="#fbe9e9"/>
<rect x="1071.70" y="820.70" width="20.00" height="19.75" fill="#fbe8e8"/>
<rect x="1091.00" y="820.70" width="19.70" height="19.75" fill="#fbe8e8"/>
<rect x="1110.00" y="820.70" width="19.50" height="19.75" fill="#fbe8e8"/>
<rect x="769.70" y="839.75" width="18.50" height="20.25" fill="#fbe8e8"/>
<rect x="787.50" y="839.75" width="20.00" height="20.25" fill="#fbe8e8"/>
<rect x="806.80" y="839.75" width="17.70" height="20.25" fill="#fbe8e8"/>
<rect x="823.80" y="839.75" width="20.00" height="20.25" fill="#fbe8e8"/>
<rect x="843.10" y="839.75" width="20.40" height="20.25" fill="#fbe9e9"/>
<rect x="862.80" y="839.75" width="20.00" height="20.25" fill="#fceeee"/>
<rect x="882.10" y="839.75" width="20.10" height="20.25" fill="#fefbfb"/>
<rect x="901.50" y="839.75" width="20.10" height="20.25" fill="#f6fafc"/>
<rect x="920.90" y="839.75" width="17.90" height="20.25" fill="#ebf3f8"/>
<rect x="938.10" y="839.75" width="20.00" height="20.25" fill="#e5eff6"/>
<rect x="957.40" y="839.75" width="20.10" height="20.25" fill="#ebf3f8"/>
<rect x="976.80" y="839.75" width="19.85" height="20.25" fill="#f6fafc"/>
<rect x="995.95" y="839.75" width="20.15" height="20.25" fill="#fefbfb"/>
<rect x="1015.40" y="839.75" width="20.10" height="20.25" fill="#fceeee"/>
<rect x="1034.80" y="839.75" width="20.00" height="20.25" fill="#fbe9e9"/>
<rect x="1054.10" y="839.75" width="18.30" height="20.25" fill="#fbe8e8"/>
<rect x="1071.70" y="839.75" width="20.00" height="20.25" fill="#fbe8e8"/>
<rect x="1091.00" y="839.75" width="19.70" height="20.25" fill="#fbe8e8"/>
<rect x="1110.00" y="839.75" width="19.50" height="20.25" fill="#fbe8e8"/>
<rect x="769.70" y="859.30" width="18.50" height="20.15" fill="#fbe8e8"/>
<rect x="787.50" y="859.30" width="20.00" height="20.15" fill="#fbe8e8"/>
<rect x="806.80" y="859.30" width="17.70" height="20.15" fill="#fbe8e8"/>
<rect x="823.80" y="859.30" width="20.00" height="20.15" fill="#fbe8e8"/>
<rect x="843.10" y="859.30" width="20.40" height="20.15" fill="#fbe8e8"/>
<rect x="862.80" y="859.30" width="20.00" height="20.15" fill="#fbe9e9"/>
<rect x="882.10" y="859.30" width="20.10" height="20.15" fill="#fbecec"/>
<rect x="901.50" y="859.30" width="20.10" height="20.15" fill="#fcf0f0"/>
<rect x="920.90" y="859.30" width="17.90" height="20.15" fill="#fdf7f7"/>
<rect x="938.10" y="859.30" width="20.00" height="20.15" fill="#fefbfb"/>
<rect x="957.40" y="859.30" width="20.10" height="20.15" fill="#fdf7f7"/>
<rect x="976.80" y="859.30" width="19.85" height="20.15" fill="#fcf0f0"/>
<rect x="995.95" y="859.30" width="20.15" height="20.15" fill="#fbecec"/>
<rect x="1015.40" y="859.30" width="20.10" height="20.15" fill="#fbe9e9"/>
<rect x="1034.80" y="859.30" width="20.00" height="20.15" fill="#fbe8e8"/>
<rect x="1054.10" y="859.30" width="18.30" height="20.15" fill="#fbe8e8"/>
<rect x="1071.70" y="859.30" width="20.00" height="20.15" fill="#fbe8e8"/>
<rect x="1091.00" y="859.30" width="19.70" height="20.15" fill="#fbe8e8"/>
<rect x="1110.00" y="859.30" width="19.50" height="20.15" fill="#fbe8e8"/>
<rect x="769.70" y="878.75" width="18.50" height="19.95" fill="#fbe8e8"/>
<rect x="787.50" y="878.75" width="20.00" height="19.95" fill="#fbe8e8"/>
<rect x="806.80" y="878.75" width="17.70" height="19.95" fill="#fbe8e8"/>
<rect x="823.80" y="878.75" width="20.00" height="19.95" fill="#fbe8e8"/>
<rect x="843.10" y="878.75" width="20.40" height="19.95" fill="#fbe8e8"/>
<rect x="862.80" y="878.75" width="20.00" height="19.95" fill="#fbe8e8"/>
<rect x="882.10" y="878.75" width="20.10" height="19.95" fill="#fbe9e9"/>
<rect x="901.50" y="878.75" width="20.10" height="19.95" fill="#fbeaea"/>
<rect x="920.90" y="878.75" width="17.90" height="19.95" fill="#fbebeb"/>
<rect x="938.10" y="878.75" width="20.00" height="19.95" fill="#fbebeb"/>
<rect x="957.40" y="878.75" width="20.10" height="19.95" fill="#fbebeb"/>
<rect x="976.80" y="878.75" width="19.85" height="19.95" fill="#fbeaea"/>
<rect x="995.95" y="878.75" width="20.15" height="19.95" fill="#fbe9e9"/>
<rect x="1015.40" y="878.75" width="20.10" height="19.95" fill="#fbe8e8"/>
<rect x="1034.80" y="878.75" width="20.00" height="19.95" fill="#fbe8e8"/>
<rect x="1054.10" y="878.75" width="18.30" height="19.95" fill="#fbe8e8"/>
<rect x="1071.70" y="878.75" width="20.00" height="19.95" fill="#fbe8e8"/>
<rect x="1091.00" y="878.75" width="19.70" height="19.95" fill="#fbe8e8"/>
<rect x="1110.00" y="878.75" width="19.50" height="19.95" fill="#fbe8e8"/>
<rect x="769.70" y="898.00" width="18.50" height="17.90" fill="#fbe8e8"/>
<rect x="787.50" y="898.00" width="20.00" height="17.90" fill="#fbe8e8"/>
<rect x="806.80" y="898.00" width="17.70" height="17.90" fill="#fbe8e8"/>
<rect x="823.80" y="898.00" width="20.00" height="17.90" fill="#fbe8e8"/>
<rect x="843.10" y="898.00" width="20.40" height="17.90" fill="#fbe8e8"/>
<rect x="862.80" y="898.00" width="20.00" height="17.90" fill="#fbe8e8"/>
<rect x="882.10" y="898.00" width="20.10" height="17.90" fill="#fbe8e8"/>
<rect x="901.50" y="898.00" width="20.10" height="17.90" fill="#fbe8e8"/>
<rect x="920.90" y="898.00" width="17.90" height="17.90" fill="#fbe8e8"/>
<rect x="938.10" y="898.00" width="20.00" height="17.90" fill="#fbe8e8"/>
<rect x="957.40" y="898.00" width="20.10" height="17.90" fill="#fbe8e8"/>
<rect x="976.80" y="898.00" width="19.85" height="17.90" fill="#fbe8e8"/>
<rect x="995.95" y="898.00" width="20.15" height="17.90" fill="#fbe8e8"/>
<rect x="1015.40" y="898.00" width="20.10" height="17.90" fill="#fbe8e8"/>
<rect x="1034.80" y="898.00" width="20.00" height="17.90" fill="#fbe8e8"/>
<rect x="1054.10" y="898.00" width="18.30" height="17.90" fill="#fbe8e8"/>
<rect x="1071.70" y="898.00" width="20.00" height="17.90" fill="#fbe8e8"/>
<rect x="1091.00" y="898.00" width="19.70" height="17.90" fill="#fbe8e8"/>
<rect x="1110.00" y="898.00" width="19.50" height="17.90" fill="#fbe8e8"/>
<rect x="769.70" y="915.20" width="18.50" height="20.00" fill="#fbe8e8"/>
<rect x="787.50" y="915.20" width="20.00" height="20.00" fill="#fbe8e8"/>
<rect x="806.80" y="915.20" width="17.70" height="20.00" fill="#fbe8e8"/>
<rect x="823.80" y="915.20" width="20.00" height="20.00" fill="#fbe8e8"/>
<rect x="843.10" y="915.20" width="20.40" height="20.00" fill="#fbe8e8"/>
<rect x="862.80" y="915.20" width="20.00" height="20.00" fill="#fbe8e8"/>
<rect x="882.10" y="915.20" width="20.10" height="20.00" fill="#fbe8e8"/>
<rect x="901.50" y="915.20" width="20.10" height="20.00" fill="#fbe8e8"/>
<rect x="920.90" y="915.20" width="17.90" height="20.00" fill="#fbe8e8"/>
<rect x="938.10" y="915.20" width="20.00" height="20.00" fill="#fbe8e8"/>
<rect x="957.40" y="915.20" width="20.10" height="20.00" fill="#fbe8e8"/>
<rect x="976.80" y="915.20" width="19.85" height="20.00" fill="#fbe8e8"/>
<rect x="995.95" y="915.20" width="20.15" height="20.00" fill="#fbe8e8"/>
<rect x="1015.40" y="915.20" width="20.10" height="20.00" fill="#fbe8e8"/>
<rect x="1034.80" y="915.20" width="20.00" height="20.00" fill="#fbe8e8"/>
<rect x="1054.10" y="915.20" width="18.30" height="20.00" fill="#fbe8e8"/>
<rect x="1071.70" y="915.20" width="20.00" height="20.00" fill="#fbe8e8"/>
<rect x="1091.00" y="915.20" width="19.70" height="20.00" fill="#fbe8e8"/>
<rect x="1110.00" y="915.20" width="19.50" height="20.00" fill="#fbe8e8"/>
<rect x="769.70" y="934.50" width="18.50" height="19.10" fill="#fbe8e8"/>
<rect x="787.50" y="934.50" width="20.00" height="19.10" fill="#fbe8e8"/>
<rect x="806.80" y="934.50" width="17.70" height="19.10" fill="#fbe8e8"/>
<rect x="823.80" y="934.50" width="20.00" height="19.10" fill="#fbe8e8"/>
<rect x="843.10" y="934.50" width="20.40" height="19.10" fill="#fbe8e8"/>
<rect x="862.80" y="934.50" width="20.00" height="19.10" fill="#fbe8e8"/>
<rect x="882.10" y="934.50" width="20.10" height="19.10" fill="#fbe8e8"/>
<rect x="901.50" y="934.50" width="20.10" height="19.10" fill="#fbe8e8"/>
<rect x="920.90" y="934.50" width="17.90" height="19.10" fill="#fbe8e8"/>
<rect x="938.10" y="934.50" width="20.00" height="19.10" fill="#fbe8e8"/>
<rect x="957.40" y="934.50" width="20.10" height="19.10" fill="#fbe8e8"/>
<rect x="976.80" y="934.50" width="19.85" height="19.10" fill="#fbe8e8"/>
<rect x="995.95" y="934.50" width="20.15" height="19.10" fill="#fbe8e8"/>
<rect x="1015.40" y="934.50" width="20.10" height="19.10" fill="#fbe8e8"/>
<rect x="1034.80" y="934.50" width="20.00" height="19.10" fill="#fbe8e8"/>
<rect x="1054.10" y="934.50" width="18.30" height="19.10" fill="#fbe8e8"/>
<rect x="1071.70" y="934.50" width="20.00" height="19.10" fill="#fbe8e8"/>
<rect x="1091.00" y="934.50" width="19.70" height="19.10" fill="#fbe8e8"/>
<rect x="1110.00" y="934.50" width="19.50" height="19.10" fill="#fbe8e8"/>
<rect x="769.70" y="594.30" width="359.80" height="359.30" fill="none" stroke="#000" stroke-width="2.6"/>
<rect x="1140.40" y="594.30" width="28.60" height="359.30" fill="url(#cm)" stroke="#000" stroke-width="2.6"/>
<path d="M854.92 953.60v9.7M949.60 953.60v9.7M1044.28 953.60v9.7M769.70 678.97h-9.5M769.70 773.65h-9.5M769.70 868.33h-9.5M1169.00 624.45h9.6M1169.00 773.95h9.6M1169.00 923.45h9.6" stroke="#000" stroke-width="2.4" stroke-linecap="round" fill="none"/>
<text transform="translate(1189.40 640.15) scale(1.000 1.036)">0.05</text>
<text transform="translate(1189.40 789.65) scale(1.000 1.036)">0.00</text>
<text transform="translate(1189.40 939.15) scale(1.000 1.036)">–0.05</text>
<text transform="translate(854.92 1005.90) scale(1.000 1.036)" text-anchor="middle">–5</text>
<text transform="translate(949.60 1005.90) scale(1.000 1.036)" text-anchor="middle">0</text>
<text transform="translate(1044.28 1005.90) scale(1.000 1.036)" text-anchor="middle">5</text>
<text transform="translate(940.00 1057.70) scale(1.000 1.036)" class="i">x</text>
<text transform="translate(1335.90 833.05) rotate(-90) scale(1.000 1.036)">4<tspan class="i">C</tspan><tspan class="i sub" dy="9">ρ</tspan><tspan dy="-9">(</tspan><tspan class="b">r</tspan>)</text>
</g>
<text transform="translate(147.80 147.50) scale(0.935 1.000)" class="pl">a</text>
<text transform="translate(725.50 147.50) scale(1.000 0.980)" class="pl">b</text>
<text transform="translate(147.20 579.20) scale(1.000 1.000)" class="pl">c</text>
<text transform="translate(725.00 578.80) scale(1.000 0.980)" class="pl">d</text>
<text transform="translate(31.60 455.20) rotate(-90) scale(1.000 1.036)" textLength="225.9">Monte Carlo</text>
<text transform="translate(31.20 838.90) rotate(-90) scale(1.000 1.036)" textLength="129.4">Theory</text>
</svg></body></html>
